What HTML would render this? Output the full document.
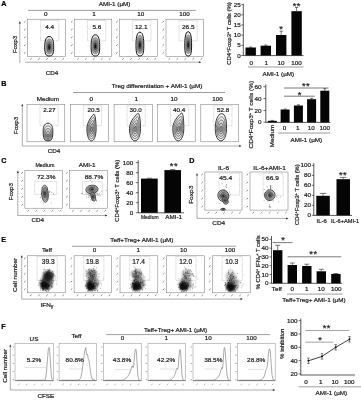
<!DOCTYPE html>
<html><head><meta charset="utf-8"><title>AMI-1 Treg figure</title>
<style>html,body{margin:0;padding:0;background:#fff}svg{display:block}text{font-family:"Liberation Sans",sans-serif}</style></head><body>
<svg width="361" height="400" viewBox="0 0 361 400">
<defs><filter id="bl" x="-20%" y="-20%" width="140%" height="140%"><feGaussianBlur stdDeviation="0.35"/></filter><filter id="bl2" x="-30%" y="-30%" width="160%" height="160%"><feGaussianBlur stdDeviation="1.1"/></filter><filter id="bl3" x="-30%" y="-30%" width="160%" height="160%"><feGaussianBlur stdDeviation="0.25"/></filter></defs>
<rect width="361" height="400" fill="#fff"/>
<text x="0" y="2.36" font-size="6.6" text-anchor="start" fill="#000" stroke="#000" stroke-width="0.2" transform="translate(1.30 3.90) scale(1.09 1)" font-weight="bold">A</text>
<text x="0" y="2.08" font-size="5.8" text-anchor="middle" fill="#1a1a1a" stroke="#1a1a1a" stroke-width="0.2" transform="translate(114.60 4.30) scale(1.09 1)">AMI-1 (µM)</text>
<line x1="28.00" y1="10.40" x2="195.80" y2="10.40" stroke="#444" stroke-width="0.52" />
<text x="0" y="2.08" font-size="5.8" text-anchor="middle" fill="#1a1a1a" stroke="#1a1a1a" stroke-width="0.2" transform="translate(45.80 13.70) scale(1.09 1)">0</text>
<text x="0" y="2.08" font-size="5.8" text-anchor="middle" fill="#1a1a1a" stroke="#1a1a1a" stroke-width="0.2" transform="translate(94.10 13.70) scale(1.09 1)">1</text>
<text x="0" y="2.08" font-size="5.8" text-anchor="middle" fill="#1a1a1a" stroke="#1a1a1a" stroke-width="0.2" transform="translate(140.70 13.70) scale(1.09 1)">10</text>
<text x="0" y="2.08" font-size="5.8" text-anchor="middle" fill="#1a1a1a" stroke="#1a1a1a" stroke-width="0.2" transform="translate(184.40 13.70) scale(1.09 1)">100</text>
<line x1="19.80" y1="63.00" x2="19.80" y2="21.80" stroke="#6a6a6a" stroke-width="0.55" />
<path d="M18.80 23.50 L19.80 21.20 L20.80 23.50Z" fill="#2a2a2a"/>
<line x1="25.00" y1="62.20" x2="200.60" y2="62.20" stroke="#6a6a6a" stroke-width="0.55" />
<path d="M198.90 61.20 L201.20 62.20 L198.90 63.20Z" fill="#2a2a2a"/>
<rect x="27.50" y="19.20" width="37.80" height="37.20" fill="none" stroke="#727272" stroke-width="0.5" />
<line x1="24.00" y1="22.50" x2="25.60" y2="21.00" stroke="#5c5c5c" stroke-width="0.72" />
<line x1="30.10" y1="59.70" x2="31.70" y2="58.20" stroke="#5c5c5c" stroke-width="0.72" />
<line x1="24.00" y1="30.30" x2="25.60" y2="28.80" stroke="#5c5c5c" stroke-width="0.72" />
<line x1="38.18" y1="59.70" x2="39.78" y2="58.20" stroke="#5c5c5c" stroke-width="0.72" />
<line x1="24.00" y1="38.10" x2="25.60" y2="36.60" stroke="#5c5c5c" stroke-width="0.72" />
<line x1="46.25" y1="59.70" x2="47.85" y2="58.20" stroke="#5c5c5c" stroke-width="0.72" />
<line x1="24.00" y1="45.90" x2="25.60" y2="44.40" stroke="#5c5c5c" stroke-width="0.72" />
<line x1="54.32" y1="59.70" x2="55.92" y2="58.20" stroke="#5c5c5c" stroke-width="0.72" />
<line x1="24.00" y1="53.70" x2="25.60" y2="52.20" stroke="#5c5c5c" stroke-width="0.72" />
<line x1="62.40" y1="59.70" x2="64.00" y2="58.20" stroke="#5c5c5c" stroke-width="0.72" />
<rect x="40.50" y="20.50" width="18.30" height="20.30" fill="none" stroke="#9a9a9a" stroke-width="0.45" stroke-dasharray="0.7 0.5"/>
<g>
<path d="M49.20 36.50 C53.03 36.50 53.70 42.35 53.70 47.23 C53.70 54.05 52.58 56.00 49.20 56.00 C45.83 56.00 44.70 54.05 44.70 47.23 C44.70 42.35 45.38 36.50 49.20 36.50Z" fill="#f4f4f4" stroke="#000" stroke-width="0.95"/>
<path d="M49.20 39.07 C52.11 39.07 52.62 43.52 52.62 47.23 C52.62 52.41 51.77 53.89 49.20 53.89 C46.64 53.89 45.78 52.41 45.78 47.23 C45.78 43.52 46.29 39.07 49.20 39.07Z" fill="#a8a8a8" stroke="#3a3a3a" stroke-width="0.4"/>
<path d="M49.20 41.22 C51.34 41.22 51.72 44.50 51.72 47.23 C51.72 51.05 51.09 52.14 49.20 52.14 C47.31 52.14 46.68 51.05 46.68 47.23 C46.68 44.50 47.06 41.22 49.20 41.22Z" fill="#808080" stroke="#444" stroke-width="0.3"/>
<path d="M49.20 43.58 C50.50 43.58 50.73 45.57 50.73 47.23 C50.73 49.55 50.35 50.21 49.20 50.21 C48.05 50.21 47.67 49.55 47.67 47.23 C47.67 45.57 47.90 43.58 49.20 43.58Z" fill="#4a4a4a" stroke="#333" stroke-width="0.3"/>
<path d="M49.20 45.40 C49.85 45.40 49.97 46.40 49.97 47.23 C49.97 48.39 49.77 48.72 49.20 48.72 C48.63 48.72 48.44 48.39 48.44 47.23 C48.44 46.40 48.55 45.40 49.20 45.40Z" fill="#141414" stroke="#111" stroke-width="0.2"/>
</g>
<text x="0" y="2.22" font-size="6.2" text-anchor="middle" fill="#1a1a1a" stroke="#1a1a1a" stroke-width="0.2" transform="translate(49.70 26.60) scale(1.04 1)">4.4</text>
<rect x="74.50" y="19.20" width="37.30" height="37.20" fill="none" stroke="#727272" stroke-width="0.5" />
<line x1="71.00" y1="22.50" x2="72.60" y2="21.00" stroke="#5c5c5c" stroke-width="0.72" />
<line x1="77.10" y1="59.70" x2="78.70" y2="58.20" stroke="#5c5c5c" stroke-width="0.72" />
<line x1="71.00" y1="30.30" x2="72.60" y2="28.80" stroke="#5c5c5c" stroke-width="0.72" />
<line x1="85.05" y1="59.70" x2="86.65" y2="58.20" stroke="#5c5c5c" stroke-width="0.72" />
<line x1="71.00" y1="38.10" x2="72.60" y2="36.60" stroke="#5c5c5c" stroke-width="0.72" />
<line x1="93.00" y1="59.70" x2="94.60" y2="58.20" stroke="#5c5c5c" stroke-width="0.72" />
<line x1="71.00" y1="45.90" x2="72.60" y2="44.40" stroke="#5c5c5c" stroke-width="0.72" />
<line x1="100.95" y1="59.70" x2="102.55" y2="58.20" stroke="#5c5c5c" stroke-width="0.72" />
<line x1="71.00" y1="53.70" x2="72.60" y2="52.20" stroke="#5c5c5c" stroke-width="0.72" />
<line x1="108.90" y1="59.70" x2="110.50" y2="58.20" stroke="#5c5c5c" stroke-width="0.72" />
<rect x="87.50" y="20.50" width="18.30" height="20.30" fill="none" stroke="#9a9a9a" stroke-width="0.45" stroke-dasharray="0.7 0.5"/>
<g>
<path d="M95.40 34.80 C99.06 34.80 99.70 41.16 99.70 46.46 C99.70 53.88 98.62 56.00 95.40 56.00 C92.18 56.00 91.10 53.88 91.10 46.46 C91.10 41.16 91.75 34.80 95.40 34.80Z" fill="#f4f4f4" stroke="#000" stroke-width="0.95"/>
<path d="M95.40 37.60 C98.18 37.60 98.67 42.43 98.67 46.46 C98.67 52.10 97.85 53.71 95.40 53.71 C92.95 53.71 92.13 52.10 92.13 46.46 C92.13 42.43 92.62 37.60 95.40 37.60Z" fill="#a8a8a8" stroke="#3a3a3a" stroke-width="0.4"/>
<path d="M95.40 39.93 C97.45 39.93 97.81 43.49 97.81 46.46 C97.81 50.62 97.21 51.80 95.40 51.80 C93.59 51.80 92.99 50.62 92.99 46.46 C92.99 43.49 93.35 39.93 95.40 39.93Z" fill="#808080" stroke="#444" stroke-width="0.3"/>
<path d="M95.40 42.50 C96.64 42.50 96.86 44.66 96.86 46.46 C96.86 48.98 96.50 49.70 95.40 49.70 C94.30 49.70 93.94 48.98 93.94 46.46 C93.94 44.66 94.16 42.50 95.40 42.50Z" fill="#4a4a4a" stroke="#333" stroke-width="0.3"/>
<path d="M95.40 44.48 C96.02 44.48 96.13 45.56 96.13 46.46 C96.13 47.72 95.95 48.08 95.40 48.08 C94.85 48.08 94.67 47.72 94.67 46.46 C94.67 45.56 94.78 44.48 95.40 44.48Z" fill="#141414" stroke="#111" stroke-width="0.2"/>
</g>
<text x="0" y="2.22" font-size="6.2" text-anchor="middle" fill="#1a1a1a" stroke="#1a1a1a" stroke-width="0.2" transform="translate(96.90 26.60) scale(1.04 1)">5.6</text>
<rect x="119.60" y="19.20" width="37.80" height="37.20" fill="none" stroke="#727272" stroke-width="0.5" />
<line x1="116.10" y1="22.50" x2="117.70" y2="21.00" stroke="#5c5c5c" stroke-width="0.72" />
<line x1="122.20" y1="59.70" x2="123.80" y2="58.20" stroke="#5c5c5c" stroke-width="0.72" />
<line x1="116.10" y1="30.30" x2="117.70" y2="28.80" stroke="#5c5c5c" stroke-width="0.72" />
<line x1="130.28" y1="59.70" x2="131.88" y2="58.20" stroke="#5c5c5c" stroke-width="0.72" />
<line x1="116.10" y1="38.10" x2="117.70" y2="36.60" stroke="#5c5c5c" stroke-width="0.72" />
<line x1="138.35" y1="59.70" x2="139.95" y2="58.20" stroke="#5c5c5c" stroke-width="0.72" />
<line x1="116.10" y1="45.90" x2="117.70" y2="44.40" stroke="#5c5c5c" stroke-width="0.72" />
<line x1="146.42" y1="59.70" x2="148.02" y2="58.20" stroke="#5c5c5c" stroke-width="0.72" />
<line x1="116.10" y1="53.70" x2="117.70" y2="52.20" stroke="#5c5c5c" stroke-width="0.72" />
<line x1="154.50" y1="59.70" x2="156.10" y2="58.20" stroke="#5c5c5c" stroke-width="0.72" />
<rect x="132.60" y="20.50" width="18.30" height="20.30" fill="none" stroke="#9a9a9a" stroke-width="0.45" stroke-dasharray="0.7 0.5"/>
<g>
<path d="M139.90 32.20 C143.22 32.20 143.80 39.34 143.80 45.29 C143.80 53.62 142.83 56.00 139.90 56.00 C136.97 56.00 136.00 53.62 136.00 45.29 C136.00 39.34 136.59 32.20 139.90 32.20Z" fill="#f4f4f4" stroke="#000" stroke-width="0.95"/>
<path d="M139.90 35.34 C142.42 35.34 142.86 40.77 142.86 45.29 C142.86 51.62 142.12 53.43 139.90 53.43 C137.68 53.43 136.94 51.62 136.94 45.29 C136.94 40.77 137.38 35.34 139.90 35.34Z" fill="#a8a8a8" stroke="#3a3a3a" stroke-width="0.4"/>
<path d="M139.90 37.96 C141.76 37.96 142.08 41.96 142.08 45.29 C142.08 49.95 141.54 51.29 139.90 51.29 C138.26 51.29 137.72 49.95 137.72 45.29 C137.72 41.96 138.04 37.96 139.90 37.96Z" fill="#808080" stroke="#444" stroke-width="0.3"/>
<path d="M139.90 40.84 C141.03 40.84 141.23 43.27 141.23 45.29 C141.23 48.12 140.89 48.93 139.90 48.93 C138.91 48.93 138.57 48.12 138.57 45.29 C138.57 43.27 138.77 40.84 139.90 40.84Z" fill="#4a4a4a" stroke="#333" stroke-width="0.3"/>
<path d="M139.90 43.06 C140.46 43.06 140.56 44.28 140.56 45.29 C140.56 46.71 140.40 47.11 139.90 47.11 C139.40 47.11 139.24 46.71 139.24 45.29 C139.24 44.28 139.34 43.06 139.90 43.06Z" fill="#141414" stroke="#111" stroke-width="0.2"/>
</g>
<text x="0" y="2.22" font-size="6.2" text-anchor="middle" fill="#1a1a1a" stroke="#1a1a1a" stroke-width="0.2" transform="translate(141.20 26.60) scale(1.04 1)">12.1</text>
<rect x="166.00" y="19.20" width="37.50" height="37.20" fill="none" stroke="#727272" stroke-width="0.5" />
<line x1="162.50" y1="22.50" x2="164.10" y2="21.00" stroke="#5c5c5c" stroke-width="0.72" />
<line x1="168.60" y1="59.70" x2="170.20" y2="58.20" stroke="#5c5c5c" stroke-width="0.72" />
<line x1="162.50" y1="30.30" x2="164.10" y2="28.80" stroke="#5c5c5c" stroke-width="0.72" />
<line x1="176.60" y1="59.70" x2="178.20" y2="58.20" stroke="#5c5c5c" stroke-width="0.72" />
<line x1="162.50" y1="38.10" x2="164.10" y2="36.60" stroke="#5c5c5c" stroke-width="0.72" />
<line x1="184.60" y1="59.70" x2="186.20" y2="58.20" stroke="#5c5c5c" stroke-width="0.72" />
<line x1="162.50" y1="45.90" x2="164.10" y2="44.40" stroke="#5c5c5c" stroke-width="0.72" />
<line x1="192.60" y1="59.70" x2="194.20" y2="58.20" stroke="#5c5c5c" stroke-width="0.72" />
<line x1="162.50" y1="53.70" x2="164.10" y2="52.20" stroke="#5c5c5c" stroke-width="0.72" />
<line x1="200.60" y1="59.70" x2="202.20" y2="58.20" stroke="#5c5c5c" stroke-width="0.72" />
<rect x="179.00" y="20.50" width="18.30" height="20.30" fill="none" stroke="#9a9a9a" stroke-width="0.45" stroke-dasharray="0.7 0.5"/>
<g>
<path d="M188.20 31.70 C191.09 31.70 191.60 38.99 191.60 45.06 C191.60 53.57 190.75 56.00 188.20 56.00 C185.65 56.00 184.80 53.57 184.80 45.06 C184.80 38.99 185.31 31.70 188.20 31.70Z" fill="#f4f4f4" stroke="#000" stroke-width="0.95"/>
<path d="M188.20 34.91 C190.40 34.91 190.78 40.45 190.78 45.06 C190.78 51.53 190.14 53.38 188.20 53.38 C186.26 53.38 185.62 51.53 185.62 45.06 C185.62 40.45 186.00 34.91 188.20 34.91Z" fill="#a8a8a8" stroke="#3a3a3a" stroke-width="0.4"/>
<path d="M188.20 37.58 C189.82 37.58 190.10 41.66 190.10 45.06 C190.10 49.83 189.63 51.19 188.20 51.19 C186.77 51.19 186.30 49.83 186.30 45.06 C186.30 41.66 186.58 37.58 188.20 37.58Z" fill="#808080" stroke="#444" stroke-width="0.3"/>
<path d="M188.20 40.52 C189.18 40.52 189.36 43.00 189.36 45.06 C189.36 47.96 189.07 48.78 188.20 48.78 C187.33 48.78 187.04 47.96 187.04 45.06 C187.04 43.00 187.22 40.52 188.20 40.52Z" fill="#4a4a4a" stroke="#333" stroke-width="0.3"/>
<path d="M188.20 42.79 C188.69 42.79 188.78 44.03 188.78 45.06 C188.78 46.51 188.63 46.92 188.20 46.92 C187.77 46.92 187.62 46.51 187.62 45.06 C187.62 44.03 187.71 42.79 188.20 42.79Z" fill="#141414" stroke="#111" stroke-width="0.2"/>
</g>
<text x="0" y="2.22" font-size="6.2" text-anchor="middle" fill="#1a1a1a" stroke="#1a1a1a" stroke-width="0.2" transform="translate(188.30 26.60) scale(1.04 1)">26.5</text>
<text x="0" y="2.08" font-size="5.8" text-anchor="middle" fill="#1a1a1a" stroke="#1a1a1a" stroke-width="0.2" transform="translate(15.00 44.50) rotate(-90) scale(1.09 1)">Foxp3</text>
<text x="0" y="2.08" font-size="5.8" text-anchor="middle" fill="#1a1a1a" stroke="#1a1a1a" stroke-width="0.2" transform="translate(52.00 72.70) scale(1.09 1)">CD4</text>
<line x1="243.30" y1="3.70" x2="243.30" y2="55.80" stroke="#111" stroke-width="0.7" />
<line x1="241.30" y1="55.50" x2="243.30" y2="55.50" stroke="#111" stroke-width="0.6" />
<text x="0" y="2.08" font-size="5.8" text-anchor="end" fill="#1a1a1a" stroke="#1a1a1a" stroke-width="0.2" transform="translate(240.80 55.50) scale(1.09 1)">0</text>
<line x1="241.30" y1="45.33" x2="243.30" y2="45.33" stroke="#111" stroke-width="0.6" />
<text x="0" y="2.08" font-size="5.8" text-anchor="end" fill="#1a1a1a" stroke="#1a1a1a" stroke-width="0.2" transform="translate(240.80 45.33) scale(1.09 1)">5</text>
<line x1="241.30" y1="35.15" x2="243.30" y2="35.15" stroke="#111" stroke-width="0.6" />
<text x="0" y="2.08" font-size="5.8" text-anchor="end" fill="#1a1a1a" stroke="#1a1a1a" stroke-width="0.2" transform="translate(240.80 35.15) scale(1.09 1)">10</text>
<line x1="241.30" y1="24.97" x2="243.30" y2="24.97" stroke="#111" stroke-width="0.6" />
<text x="0" y="2.08" font-size="5.8" text-anchor="end" fill="#1a1a1a" stroke="#1a1a1a" stroke-width="0.2" transform="translate(240.80 24.97) scale(1.09 1)">15</text>
<line x1="241.30" y1="14.80" x2="243.30" y2="14.80" stroke="#111" stroke-width="0.6" />
<text x="0" y="2.08" font-size="5.8" text-anchor="end" fill="#1a1a1a" stroke="#1a1a1a" stroke-width="0.2" transform="translate(240.80 14.80) scale(1.09 1)">20</text>
<line x1="241.30" y1="4.62" x2="243.30" y2="4.62" stroke="#111" stroke-width="0.6" />
<text x="0" y="2.08" font-size="5.8" text-anchor="end" fill="#1a1a1a" stroke="#1a1a1a" stroke-width="0.2" transform="translate(240.80 4.62) scale(1.09 1)">25</text>
<line x1="243.30" y1="55.60" x2="303.50" y2="55.60" stroke="#111" stroke-width="0.7" />
<rect x="245.50" y="47.50" width="10.40" height="8.00" fill="#050505"/>
<line x1="250.70" y1="47.50" x2="250.70" y2="47.00" stroke="#111" stroke-width="0.55" />
<line x1="249.10" y1="47.00" x2="252.30" y2="47.00" stroke="#111" stroke-width="0.55" />
<rect x="260.60" y="45.70" width="10.40" height="9.80" fill="#050505"/>
<line x1="265.80" y1="45.70" x2="265.80" y2="45.00" stroke="#111" stroke-width="0.55" />
<line x1="264.20" y1="45.00" x2="267.40" y2="45.00" stroke="#111" stroke-width="0.55" />
<rect x="276.00" y="35.00" width="10.40" height="20.50" fill="#050505"/>
<line x1="281.20" y1="35.00" x2="281.20" y2="31.20" stroke="#111" stroke-width="0.55" />
<line x1="279.60" y1="31.20" x2="282.80" y2="31.20" stroke="#111" stroke-width="0.55" />
<rect x="291.40" y="11.20" width="10.40" height="44.30" fill="#050505"/>
<line x1="296.60" y1="11.20" x2="296.60" y2="7.50" stroke="#111" stroke-width="0.55" />
<line x1="295.00" y1="7.50" x2="298.20" y2="7.50" stroke="#111" stroke-width="0.55" />
<text x="281.20" y="32.49" font-size="9.4" text-anchor="middle" fill="#222" stroke="#222" stroke-width="0.2" letter-spacing="0.4">*</text>
<text x="296.70" y="8.79" font-size="9.4" text-anchor="middle" fill="#222" stroke="#222" stroke-width="0.2" letter-spacing="0.4">**</text>
<text x="0" y="2.08" font-size="5.8" text-anchor="middle" fill="#1a1a1a" stroke="#1a1a1a" stroke-width="0.2" transform="translate(251.20 62.50) scale(1.09 1)">0</text>
<text x="0" y="2.08" font-size="5.8" text-anchor="middle" fill="#1a1a1a" stroke="#1a1a1a" stroke-width="0.2" transform="translate(266.20 62.50) scale(1.09 1)">1</text>
<text x="0" y="2.08" font-size="5.8" text-anchor="middle" fill="#1a1a1a" stroke="#1a1a1a" stroke-width="0.2" transform="translate(281.00 62.50) scale(1.09 1)">10</text>
<text x="0" y="2.08" font-size="5.8" text-anchor="middle" fill="#1a1a1a" stroke="#1a1a1a" stroke-width="0.2" transform="translate(296.50 62.50) scale(1.09 1)">100</text>
<line x1="248.00" y1="67.00" x2="303.50" y2="67.00" stroke="#444" stroke-width="0.52" />
<text x="0" y="2.08" font-size="5.8" text-anchor="middle" fill="#1a1a1a" stroke="#1a1a1a" stroke-width="0.2" transform="translate(278.30 73.50) scale(1.09 1)">AMI-1 (µM)</text>
<text x="0" y="2.08" font-size="5.8" text-anchor="middle" fill="#1a1a1a" stroke="#1a1a1a" stroke-width="0.2" transform="translate(228.60 33.50) rotate(-90) scale(1.032 1)">CD4<tspan font-size="3.6" dy="-2.0">+</tspan><tspan dy="2.0">Foxp3</tspan><tspan font-size="3.6" dy="-2.0">+</tspan><tspan dy="2.0"> T cells (%)</tspan></text>
<text x="0" y="2.36" font-size="6.6" text-anchor="start" fill="#000" stroke="#000" stroke-width="0.2" transform="translate(1.30 83.20) scale(1.09 1)" font-weight="bold">B</text>
<text x="0" y="2.08" font-size="5.8" text-anchor="middle" fill="#1a1a1a" stroke="#1a1a1a" stroke-width="0.2" transform="translate(157.00 86.20) scale(1.09 1)">Treg differentiation + AMI-1 (µM)</text>
<line x1="73.00" y1="92.50" x2="225.00" y2="92.50" stroke="#444" stroke-width="0.52" />
<text x="0" y="2.08" font-size="5.8" text-anchor="middle" fill="#1a1a1a" stroke="#1a1a1a" stroke-width="0.2" transform="translate(47.90 99.20) scale(1.09 1)">Medium</text>
<text x="0" y="2.08" font-size="5.8" text-anchor="middle" fill="#1a1a1a" stroke="#1a1a1a" stroke-width="0.2" transform="translate(91.20 99.20) scale(1.09 1)">0</text>
<text x="0" y="2.08" font-size="5.8" text-anchor="middle" fill="#1a1a1a" stroke="#1a1a1a" stroke-width="0.2" transform="translate(136.20 99.20) scale(1.09 1)">1</text>
<text x="0" y="2.08" font-size="5.8" text-anchor="middle" fill="#1a1a1a" stroke="#1a1a1a" stroke-width="0.2" transform="translate(174.10 99.20) scale(1.09 1)">10</text>
<text x="0" y="2.08" font-size="5.8" text-anchor="middle" fill="#1a1a1a" stroke="#1a1a1a" stroke-width="0.2" transform="translate(217.40 99.20) scale(1.09 1)">100</text>
<line x1="22.30" y1="146.00" x2="22.30" y2="104.50" stroke="#6a6a6a" stroke-width="0.55" />
<path d="M21.30 106.20 L22.30 103.90 L23.30 106.20Z" fill="#2a2a2a"/>
<line x1="22.30" y1="146.00" x2="240.90" y2="146.00" stroke="#6a6a6a" stroke-width="0.55" />
<path d="M239.20 145.00 L241.50 146.00 L239.20 147.00Z" fill="#2a2a2a"/>
<rect x="27.00" y="104.50" width="37.80" height="37.30" fill="none" stroke="#727272" stroke-width="0.5" />
<rect x="40.00" y="105.80" width="18.20" height="19.90" fill="none" stroke="#9a9a9a" stroke-width="0.45" stroke-dasharray="0.7 0.5"/>
<g filter="url(#bl3)">
<path d="M48.00 123.20 C52.37 123.20 52.85 128.51 52.85 131.16 C52.85 139.13 51.64 140.90 48.00 140.90 C44.36 140.90 43.15 139.13 43.15 131.16 C43.15 128.51 43.63 123.20 48.00 123.20Z" fill="#f7f7f7" stroke="#050505" stroke-width="0.8"/>
<path d="M48.00 125.86 C51.49 125.86 51.88 130.10 51.88 132.23 C51.88 138.60 50.91 140.02 48.00 140.02 C45.09 140.02 44.12 138.60 44.12 132.23 C44.12 130.10 44.51 125.86 48.00 125.86Z" fill="#ececec" stroke="#050505" stroke-width="0.5"/>
<path d="M48.00 128.51 C50.62 128.51 50.91 131.70 50.91 133.29 C50.91 138.07 50.18 139.13 48.00 139.13 C45.82 139.13 45.09 138.07 45.09 133.29 C45.09 131.70 45.38 128.51 48.00 128.51Z" fill="#e0e0e0" stroke="#050505" stroke-width="0.5"/>
<path d="M48.00 131.16 C49.75 131.16 49.94 133.29 49.94 134.35 C49.94 137.54 49.45 138.25 48.00 138.25 C46.55 138.25 46.06 137.54 46.06 134.35 C46.06 133.29 46.25 131.16 48.00 131.16Z" fill="#cfcfcf" stroke="#050505" stroke-width="0.5"/>
<path d="M48.00 133.82 C48.87 133.82 48.97 134.88 48.97 135.41 C48.97 137.01 48.73 137.36 48.00 137.36 C47.27 137.36 47.03 137.01 47.03 135.41 C47.03 134.88 47.13 133.82 48.00 133.82Z" fill="#a8a8a8" stroke="#050505" stroke-width="0.5"/>
</g>
<text x="0" y="2.08" font-size="5.8" text-anchor="middle" fill="#1a1a1a" stroke="#1a1a1a" stroke-width="0.2" transform="translate(49.50 110.10) scale(1.09 1)">2.27</text>
<rect x="70.30" y="104.50" width="38.10" height="37.30" fill="none" stroke="#727272" stroke-width="0.5" />
<rect x="83.30" y="105.80" width="18.20" height="19.90" fill="none" stroke="#9a9a9a" stroke-width="0.45" stroke-dasharray="0.7 0.5"/>
<g filter="url(#bl3)">
<path d="M94.00 114.10 C95.15 114.64 96.10 121.60 96.10 128.84 C96.10 136.08 94.03 140.90 91.50 140.90 C88.97 140.90 86.90 136.08 86.90 128.84 C86.90 121.60 92.85 114.64 94.00 114.10Z" fill="#f7f7f7" stroke="#050505" stroke-width="0.8"/>
<path d="M93.50 117.21 C94.42 117.64 95.18 123.21 95.18 129.00 C95.18 134.79 93.52 138.65 91.50 138.65 C89.48 138.65 87.82 134.79 87.82 129.00 C87.82 123.21 92.58 117.64 93.50 117.21Z" fill="#ececec" stroke="#050505" stroke-width="0.5"/>
<path d="M93.00 120.32 C93.69 120.64 94.26 124.82 94.26 129.16 C94.26 133.50 93.02 136.40 91.50 136.40 C89.98 136.40 88.74 133.50 88.74 129.16 C88.74 124.82 92.31 120.64 93.00 120.32Z" fill="#e0e0e0" stroke="#050505" stroke-width="0.5"/>
<path d="M92.50 123.43 C92.96 123.64 93.34 126.43 93.34 129.32 C93.34 132.22 92.51 134.15 91.50 134.15 C90.49 134.15 89.66 132.22 89.66 129.32 C89.66 126.43 92.04 123.64 92.50 123.43Z" fill="#cfcfcf" stroke="#050505" stroke-width="0.5"/>
<path d="M92.00 126.54 C92.23 126.64 92.42 128.04 92.42 129.48 C92.42 130.93 92.01 131.90 91.50 131.90 C90.99 131.90 90.58 130.93 90.58 129.48 C90.58 128.04 91.77 126.64 92.00 126.54Z" fill="#a8a8a8" stroke="#050505" stroke-width="0.5"/>
</g>
<text x="0" y="2.08" font-size="5.8" text-anchor="middle" fill="#1a1a1a" stroke="#1a1a1a" stroke-width="0.2" transform="translate(93.70 110.10) scale(1.09 1)">20.5</text>
<rect x="114.10" y="104.50" width="38.20" height="37.30" fill="none" stroke="#727272" stroke-width="0.5" />
<rect x="127.10" y="105.80" width="18.20" height="19.90" fill="none" stroke="#9a9a9a" stroke-width="0.45" stroke-dasharray="0.7 0.5"/>
<g filter="url(#bl3)">
<path d="M138.20 113.30 C139.57 113.85 140.50 121.03 140.50 128.48 C140.50 135.93 138.03 140.90 135.00 140.90 C131.97 140.90 129.50 135.93 129.50 128.48 C129.50 121.03 136.82 113.85 138.20 113.30Z" fill="#f7f7f7" stroke="#050505" stroke-width="0.8"/>
<path d="M137.56 116.50 C138.66 116.94 139.40 122.68 139.40 128.65 C139.40 134.61 137.42 138.58 135.00 138.58 C132.58 138.58 130.60 134.61 130.60 128.65 C130.60 122.68 136.46 116.94 137.56 116.50Z" fill="#ececec" stroke="#050505" stroke-width="0.5"/>
<path d="M136.92 119.70 C137.74 120.03 138.30 124.34 138.30 128.81 C138.30 133.28 136.81 136.26 135.00 136.26 C133.19 136.26 131.70 133.28 131.70 128.81 C131.70 124.34 136.09 120.03 136.92 119.70Z" fill="#e0e0e0" stroke="#050505" stroke-width="0.5"/>
<path d="M136.28 122.90 C136.83 123.13 137.20 126.00 137.20 128.98 C137.20 131.96 136.21 133.94 135.00 133.94 C133.79 133.94 132.80 131.96 132.80 128.98 C132.80 126.00 135.73 123.13 136.28 122.90Z" fill="#cfcfcf" stroke="#050505" stroke-width="0.5"/>
<path d="M135.64 126.11 C135.91 126.22 136.10 127.65 136.10 129.14 C136.10 130.63 135.60 131.63 135.00 131.63 C134.40 131.63 133.90 130.63 133.90 129.14 C133.90 127.65 135.36 126.22 135.64 126.11Z" fill="#a8a8a8" stroke="#050505" stroke-width="0.5"/>
</g>
<text x="0" y="2.08" font-size="5.8" text-anchor="middle" fill="#1a1a1a" stroke="#1a1a1a" stroke-width="0.2" transform="translate(135.70 110.10) scale(1.09 1)">30.0</text>
<rect x="157.50" y="104.50" width="37.70" height="37.30" fill="none" stroke="#727272" stroke-width="0.5" />
<rect x="170.50" y="105.80" width="18.20" height="19.90" fill="none" stroke="#9a9a9a" stroke-width="0.45" stroke-dasharray="0.7 0.5"/>
<g filter="url(#bl3)">
<path d="M181.80 112.90 C183.18 113.46 183.80 120.74 183.80 128.30 C183.80 135.86 181.33 140.90 178.30 140.90 C175.28 140.90 172.80 135.86 172.80 128.30 C172.80 120.74 180.43 113.46 181.80 112.90Z" fill="#f7f7f7" stroke="#050505" stroke-width="0.8"/>
<path d="M181.10 116.15 C182.20 116.60 182.70 122.42 182.70 128.47 C182.70 134.52 180.72 138.55 178.30 138.55 C175.88 138.55 173.90 134.52 173.90 128.47 C173.90 122.42 180.00 116.60 181.10 116.15Z" fill="#ececec" stroke="#050505" stroke-width="0.5"/>
<path d="M180.40 119.40 C181.22 119.73 181.60 124.10 181.60 128.64 C181.60 133.17 180.12 136.20 178.30 136.20 C176.49 136.20 175.00 133.17 175.00 128.64 C175.00 124.10 179.58 119.73 180.40 119.40Z" fill="#e0e0e0" stroke="#050505" stroke-width="0.5"/>
<path d="M179.70 122.64 C180.25 122.87 180.50 125.78 180.50 128.80 C180.50 131.83 179.51 133.84 178.30 133.84 C177.09 133.84 176.10 131.83 176.10 128.80 C176.10 125.78 179.15 122.87 179.70 122.64Z" fill="#cfcfcf" stroke="#050505" stroke-width="0.5"/>
<path d="M179.00 125.89 C179.28 126.00 179.40 127.46 179.40 128.97 C179.40 130.48 178.91 131.49 178.30 131.49 C177.70 131.49 177.20 130.48 177.20 128.97 C177.20 127.46 178.72 126.00 179.00 125.89Z" fill="#a8a8a8" stroke="#050505" stroke-width="0.5"/>
</g>
<text x="0" y="2.08" font-size="5.8" text-anchor="middle" fill="#1a1a1a" stroke="#1a1a1a" stroke-width="0.2" transform="translate(179.10 110.10) scale(1.09 1)">40.4</text>
<rect x="200.80" y="104.50" width="37.70" height="37.30" fill="none" stroke="#727272" stroke-width="0.5" />
<rect x="213.80" y="105.80" width="18.20" height="19.90" fill="none" stroke="#9a9a9a" stroke-width="0.45" stroke-dasharray="0.7 0.5"/>
<g filter="url(#bl3)">
<path d="M221.70 113.60 C225.94 114.15 226.55 121.24 226.55 128.62 C226.55 135.99 224.01 140.90 220.90 140.90 C217.79 140.90 215.25 135.99 215.25 128.62 C215.25 121.24 217.46 114.15 221.70 113.60Z" fill="#f7f7f7" stroke="#050505" stroke-width="0.8"/>
<path d="M221.54 116.77 C224.93 117.20 225.42 122.88 225.42 128.78 C225.42 134.68 223.39 138.61 220.90 138.61 C218.41 138.61 216.38 134.68 216.38 128.78 C216.38 122.88 218.15 117.20 221.54 116.77Z" fill="#ececec" stroke="#050505" stroke-width="0.5"/>
<path d="M221.38 119.93 C223.92 120.26 224.29 124.52 224.29 128.94 C224.29 133.37 222.76 136.31 220.90 136.31 C219.04 136.31 217.51 133.37 217.51 128.94 C217.51 124.52 218.84 120.26 221.38 119.93Z" fill="#e0e0e0" stroke="#050505" stroke-width="0.5"/>
<path d="M221.22 123.10 C222.91 123.32 223.16 126.16 223.16 129.11 C223.16 132.05 222.14 134.02 220.90 134.02 C219.66 134.02 218.64 132.05 218.64 129.11 C218.64 126.16 219.53 123.32 221.22 123.10Z" fill="#cfcfcf" stroke="#050505" stroke-width="0.5"/>
<path d="M221.06 126.27 C221.91 126.38 222.03 127.80 222.03 129.27 C222.03 130.74 221.52 131.73 220.90 131.73 C220.28 131.73 219.77 130.74 219.77 129.27 C219.77 127.80 220.21 126.38 221.06 126.27Z" fill="#a8a8a8" stroke="#050505" stroke-width="0.5"/>
</g>
<text x="0" y="2.08" font-size="5.8" text-anchor="middle" fill="#1a1a1a" stroke="#1a1a1a" stroke-width="0.2" transform="translate(223.20 110.10) scale(1.09 1)">52.8</text>
<text x="0" y="2.08" font-size="5.8" text-anchor="middle" fill="#1a1a1a" stroke="#1a1a1a" stroke-width="0.2" transform="translate(16.20 125.40) rotate(-90) scale(1.09 1)">Foxp3</text>
<text x="0" y="2.08" font-size="5.8" text-anchor="middle" fill="#1a1a1a" stroke="#1a1a1a" stroke-width="0.2" transform="translate(54.00 151.30) scale(1.09 1)">CD4</text>
<line x1="265.80" y1="84.50" x2="265.80" y2="122.60" stroke="#111" stroke-width="0.7" />
<line x1="263.40" y1="122.30" x2="265.80" y2="122.30" stroke="#111" stroke-width="0.6" />
<text x="0" y="2.08" font-size="5.8" text-anchor="end" fill="#1a1a1a" stroke="#1a1a1a" stroke-width="0.2" transform="translate(261.60 122.30) scale(1.09 1)">0</text>
<line x1="263.40" y1="110.46" x2="265.80" y2="110.46" stroke="#111" stroke-width="0.6" />
<text x="0" y="2.08" font-size="5.8" text-anchor="end" fill="#1a1a1a" stroke="#1a1a1a" stroke-width="0.2" transform="translate(261.60 110.46) scale(1.09 1)">20</text>
<line x1="263.40" y1="98.62" x2="265.80" y2="98.62" stroke="#111" stroke-width="0.6" />
<text x="0" y="2.08" font-size="5.8" text-anchor="end" fill="#1a1a1a" stroke="#1a1a1a" stroke-width="0.2" transform="translate(261.60 98.62) scale(1.09 1)">40</text>
<line x1="263.40" y1="86.78" x2="265.80" y2="86.78" stroke="#111" stroke-width="0.6" />
<text x="0" y="2.08" font-size="5.8" text-anchor="end" fill="#1a1a1a" stroke="#1a1a1a" stroke-width="0.2" transform="translate(261.60 86.78) scale(1.09 1)">60</text>
<line x1="265.80" y1="122.40" x2="330.50" y2="122.40" stroke="#111" stroke-width="0.7" />
<rect x="267.80" y="120.80" width="9.00" height="1.60" fill="#050505"/>
<line x1="272.30" y1="120.80" x2="272.30" y2="120.40" stroke="#111" stroke-width="0.55" />
<line x1="270.80" y1="120.40" x2="273.80" y2="120.40" stroke="#111" stroke-width="0.55" />
<rect x="280.60" y="109.50" width="9.00" height="12.90" fill="#050505"/>
<line x1="285.10" y1="109.50" x2="285.10" y2="109.00" stroke="#111" stroke-width="0.55" />
<line x1="283.60" y1="109.00" x2="286.60" y2="109.00" stroke="#111" stroke-width="0.55" />
<rect x="293.90" y="105.50" width="9.00" height="16.90" fill="#050505"/>
<line x1="298.40" y1="105.50" x2="298.40" y2="104.80" stroke="#111" stroke-width="0.55" />
<line x1="296.90" y1="104.80" x2="299.90" y2="104.80" stroke="#111" stroke-width="0.55" />
<rect x="307.10" y="99.20" width="9.00" height="23.20" fill="#050505"/>
<line x1="311.60" y1="99.20" x2="311.60" y2="98.30" stroke="#111" stroke-width="0.55" />
<line x1="310.10" y1="98.30" x2="313.10" y2="98.30" stroke="#111" stroke-width="0.55" />
<rect x="320.30" y="90.70" width="9.00" height="31.70" fill="#050505"/>
<line x1="324.80" y1="90.70" x2="324.80" y2="88.70" stroke="#111" stroke-width="0.55" />
<line x1="323.30" y1="88.70" x2="326.30" y2="88.70" stroke="#111" stroke-width="0.55" />
<text x="306.00" y="88.79" font-size="9.4" text-anchor="middle" fill="#222" stroke="#222" stroke-width="0.2" letter-spacing="0.4">**</text>
<line x1="284.00" y1="88.00" x2="328.50" y2="88.00" stroke="#222" stroke-width="0.6" />
<text x="299.70" y="97.99" font-size="9.4" text-anchor="middle" fill="#222" stroke="#222" stroke-width="0.2" letter-spacing="0.4">*</text>
<line x1="284.00" y1="96.20" x2="314.70" y2="96.20" stroke="#222" stroke-width="0.6" />
<text x="0" y="2.08" font-size="5.8" text-anchor="middle" fill="#1a1a1a" stroke="#1a1a1a" stroke-width="0.2" transform="translate(284.50 128.40) scale(1.09 1)">0</text>
<text x="0" y="2.08" font-size="5.8" text-anchor="middle" fill="#1a1a1a" stroke="#1a1a1a" stroke-width="0.2" transform="translate(297.80 128.40) scale(1.09 1)">1</text>
<text x="0" y="2.08" font-size="5.8" text-anchor="middle" fill="#1a1a1a" stroke="#1a1a1a" stroke-width="0.2" transform="translate(311.20 128.40) scale(1.09 1)">10</text>
<text x="0" y="2.08" font-size="5.8" text-anchor="middle" fill="#1a1a1a" stroke="#1a1a1a" stroke-width="0.2" transform="translate(324.70 128.40) scale(1.09 1)">100</text>
<text x="0" y="2.08" font-size="5.8" text-anchor="end" fill="#1a1a1a" stroke="#1a1a1a" stroke-width="0.2" transform="translate(272.00 124.80) rotate(-90) scale(1.09 1)">Medium</text>
<line x1="278.00" y1="133.00" x2="330.50" y2="133.00" stroke="#444" stroke-width="0.52" />
<text x="0" y="2.08" font-size="5.8" text-anchor="middle" fill="#1a1a1a" stroke="#1a1a1a" stroke-width="0.2" transform="translate(306.30 140.00) scale(1.09 1)">AMI-1 (µM)</text>
<text x="0" y="2.08" font-size="5.8" text-anchor="middle" fill="#1a1a1a" stroke="#1a1a1a" stroke-width="0.2" transform="translate(251.00 114.70) rotate(-90) scale(1.114 1)">CD4<tspan font-size="3.6" dy="-2.0">+</tspan><tspan dy="2.0">Foxp3</tspan><tspan font-size="3.6" dy="-2.0">+</tspan><tspan dy="2.0"> T cells (%)</tspan></text>
<text x="0" y="2.36" font-size="6.6" text-anchor="start" fill="#000" stroke="#000" stroke-width="0.2" transform="translate(1.30 160.70) scale(1.09 1)" font-weight="bold">C</text>
<text x="0" y="2.08" font-size="5.8" text-anchor="middle" fill="#1a1a1a" stroke="#1a1a1a" stroke-width="0.2" transform="translate(44.90 164.90) scale(1.09 1)" textLength="17.43" lengthAdjust="spacingAndGlyphs">Medium</text>
<text x="0" y="2.08" font-size="5.8" text-anchor="middle" fill="#1a1a1a" stroke="#1a1a1a" stroke-width="0.2" transform="translate(87.10 164.90) scale(1.09 1)">AMI-1</text>
<line x1="17.80" y1="215.50" x2="17.80" y2="171.20" stroke="#6a6a6a" stroke-width="0.55" />
<path d="M16.80 172.90 L17.80 170.60 L18.80 172.90Z" fill="#2a2a2a"/>
<line x1="17.80" y1="215.50" x2="106.80" y2="215.50" stroke="#6a6a6a" stroke-width="0.55" />
<path d="M105.10 214.50 L107.40 215.50 L105.10 216.50Z" fill="#2a2a2a"/>
<rect x="24.90" y="170.30" width="37.60" height="37.90" fill="none" stroke="#727272" stroke-width="0.5" />
<line x1="21.40" y1="173.60" x2="23.00" y2="172.10" stroke="#5c5c5c" stroke-width="0.72" />
<line x1="27.50" y1="211.50" x2="29.10" y2="210.00" stroke="#5c5c5c" stroke-width="0.72" />
<line x1="21.40" y1="181.58" x2="23.00" y2="180.08" stroke="#5c5c5c" stroke-width="0.72" />
<line x1="35.52" y1="211.50" x2="37.12" y2="210.00" stroke="#5c5c5c" stroke-width="0.72" />
<line x1="21.40" y1="189.55" x2="23.00" y2="188.05" stroke="#5c5c5c" stroke-width="0.72" />
<line x1="43.55" y1="211.50" x2="45.15" y2="210.00" stroke="#5c5c5c" stroke-width="0.72" />
<line x1="21.40" y1="197.53" x2="23.00" y2="196.03" stroke="#5c5c5c" stroke-width="0.72" />
<line x1="51.58" y1="211.50" x2="53.18" y2="210.00" stroke="#5c5c5c" stroke-width="0.72" />
<line x1="21.40" y1="205.50" x2="23.00" y2="204.00" stroke="#5c5c5c" stroke-width="0.72" />
<line x1="59.60" y1="211.50" x2="61.20" y2="210.00" stroke="#5c5c5c" stroke-width="0.72" />
<rect x="69.60" y="170.30" width="37.70" height="37.90" fill="none" stroke="#727272" stroke-width="0.5" />
<line x1="66.10" y1="173.60" x2="67.70" y2="172.10" stroke="#5c5c5c" stroke-width="0.72" />
<line x1="72.20" y1="211.50" x2="73.80" y2="210.00" stroke="#5c5c5c" stroke-width="0.72" />
<line x1="66.10" y1="181.58" x2="67.70" y2="180.08" stroke="#5c5c5c" stroke-width="0.72" />
<line x1="80.25" y1="211.50" x2="81.85" y2="210.00" stroke="#5c5c5c" stroke-width="0.72" />
<line x1="66.10" y1="189.55" x2="67.70" y2="188.05" stroke="#5c5c5c" stroke-width="0.72" />
<line x1="88.30" y1="211.50" x2="89.90" y2="210.00" stroke="#5c5c5c" stroke-width="0.72" />
<line x1="66.10" y1="197.53" x2="67.70" y2="196.03" stroke="#5c5c5c" stroke-width="0.72" />
<line x1="96.35" y1="211.50" x2="97.95" y2="210.00" stroke="#5c5c5c" stroke-width="0.72" />
<line x1="66.10" y1="205.50" x2="67.70" y2="204.00" stroke="#5c5c5c" stroke-width="0.72" />
<line x1="104.40" y1="211.50" x2="106.00" y2="210.00" stroke="#5c5c5c" stroke-width="0.72" />
<rect x="34.60" y="181.60" width="22.20" height="13.00" fill="none" stroke="#9a9a9a" stroke-width="0.45" stroke-dasharray="0.7 0.5"/>
<rect x="82.40" y="181.60" width="20.40" height="13.00" fill="none" stroke="#9a9a9a" stroke-width="0.45" stroke-dasharray="0.7 0.5"/>
<path d="M41.8 195.9h.01M47.6 191.4h.01M41.5 193.7h.01M46.2 199.5h.01M41.8 187.5h.01M46.8 196.4h.01M49.0 198.9h.01M44.7 192.6h.01M51.7 192.6h.01M43.0 188.3h.01M45.2 194.7h.01M44.1 193.7h.01M45.7 197.5h.01M47.9 195.0h.01M40.3 197.5h.01M41.3 193.1h.01M41.2 194.0h.01M43.0 195.1h.01M53.6 193.8h.01M47.2 187.4h.01M44.3 197.3h.01M44.8 195.9h.01M45.3 189.0h.01M46.5 189.9h.01M49.9 191.5h.01M46.8 194.0h.01M47.5 191.0h.01M47.6 193.4h.01M48.3 197.1h.01M45.4 190.1h.01M47.0 196.3h.01M49.3 192.1h.01M46.4 196.5h.01M45.7 195.0h.01M45.5 191.0h.01M42.4 192.0h.01M46.5 201.6h.01M47.5 199.3h.01M47.0 197.5h.01M45.5 197.9h.01M49.6 192.4h.01M43.2 203.8h.01M45.6 198.9h.01M47.3 188.3h.01M51.3 202.9h.01" stroke="#333" stroke-width="0.64" stroke-linecap="round" fill="none" opacity="0.8"/>
<g transform="translate(45.2 193.7) rotate(-3)">
<ellipse cx="-0.21" cy="0.04" rx="3.30" ry="8.60" fill="#cdcdcd" stroke="#1a1a1a" stroke-width="0.7"/>
<ellipse cx="-0.10" cy="0.08" rx="2.57" ry="6.71" fill="#adadad" stroke="#1a1a1a" stroke-width="0.35"/>
<ellipse cx="0.10" cy="-0.35" rx="1.91" ry="4.99" fill="#929292" stroke="#1a1a1a" stroke-width="0.35"/>
<ellipse cx="-0.39" cy="0.27" rx="1.25" ry="3.27" fill="#707070" stroke="#1a1a1a" stroke-width="0.35"/>
<ellipse cx="-0.19" cy="-0.21" rx="0.56" ry="1.46" fill="#303030" stroke="#1a1a1a" stroke-width="0.35"/>
</g>
<path d="M86.2 193.0h.01M90.9 189.8h.01M95.9 192.3h.01M90.9 200.1h.01M90.0 186.3h.01M86.5 189.6h.01M94.6 195.8h.01M96.6 200.3h.01M98.9 195.0h.01M97.4 195.1h.01M89.9 195.9h.01M92.4 191.3h.01M100.2 195.7h.01M90.3 191.9h.01M101.7 191.1h.01M95.2 195.1h.01M94.3 194.9h.01M90.3 190.1h.01M91.6 190.6h.01M95.5 199.3h.01M88.6 194.7h.01M88.3 189.1h.01M91.3 192.7h.01M90.4 180.4h.01M97.8 191.0h.01M89.6 195.4h.01M89.8 185.7h.01M94.2 194.2h.01M88.9 196.1h.01M93.7 187.1h.01M99.3 193.5h.01M87.6 194.3h.01M92.7 196.7h.01M86.7 197.0h.01M96.0 195.4h.01M94.7 198.2h.01M95.1 192.8h.01M88.8 197.3h.01M96.2 193.6h.01M92.8 195.5h.01M82.0 193.7h.01M82.1 193.3h.01M96.5 200.9h.01M90.3 194.2h.01M91.9 182.1h.01M95.2 192.1h.01M92.5 187.9h.01M92.0 192.6h.01M97.4 193.6h.01M106.3 190.4h.01" stroke="#333" stroke-width="0.64" stroke-linecap="round" fill="none" opacity="0.8"/>
<g transform="translate(91.8 189.3) rotate(-8)">
<ellipse cx="0.10" cy="0.19" rx="6.10" ry="4.30" fill="#cdcdcd" stroke="#1a1a1a" stroke-width="0.7"/>
<ellipse cx="0.24" cy="0.35" rx="4.76" ry="3.35" fill="#adadad" stroke="#1a1a1a" stroke-width="0.35"/>
<ellipse cx="0.19" cy="0.34" rx="3.54" ry="2.49" fill="#929292" stroke="#1a1a1a" stroke-width="0.35"/>
<ellipse cx="-0.38" cy="-0.03" rx="2.32" ry="1.63" fill="#707070" stroke="#1a1a1a" stroke-width="0.35"/>
<ellipse cx="0.35" cy="0.12" rx="1.04" ry="0.73" fill="#303030" stroke="#1a1a1a" stroke-width="0.35"/>
</g>
<g transform="translate(93 196.5) rotate(-12)">
<ellipse cx="0.23" cy="0.26" rx="2.20" ry="4.60" fill="#cdcdcd" stroke="#1a1a1a" stroke-width="0.7"/>
<ellipse cx="-0.01" cy="-0.19" rx="1.72" ry="3.59" fill="#adadad" stroke="#1a1a1a" stroke-width="0.35"/>
<ellipse cx="-0.40" cy="0.13" rx="1.28" ry="2.67" fill="#929292" stroke="#1a1a1a" stroke-width="0.35"/>
<ellipse cx="-0.02" cy="0.21" rx="0.84" ry="1.75" fill="#707070" stroke="#1a1a1a" stroke-width="0.35"/>
<ellipse cx="-0.10" cy="0.22" rx="0.37" ry="0.78" fill="#303030" stroke="#1a1a1a" stroke-width="0.35"/>
</g>
<text x="0" y="2.15" font-size="6.0" text-anchor="middle" fill="#1a1a1a" stroke="#1a1a1a" stroke-width="0.2" transform="translate(46.20 177.00) scale(1.09 1)">72.3%</text>
<text x="0" y="2.15" font-size="6.0" text-anchor="middle" fill="#1a1a1a" stroke="#1a1a1a" stroke-width="0.2" transform="translate(94.00 177.00) scale(1.09 1)">88.7%</text>
<text x="0" y="2.08" font-size="5.8" text-anchor="middle" fill="#1a1a1a" stroke="#1a1a1a" stroke-width="0.2" transform="translate(10.90 191.70) rotate(-90) scale(1.09 1)">Foxp3</text>
<text x="0" y="2.08" font-size="5.8" text-anchor="middle" fill="#1a1a1a" stroke="#1a1a1a" stroke-width="0.2" transform="translate(37.80 220.00) scale(1.09 1)">CD4</text>
<line x1="138.20" y1="160.30" x2="138.20" y2="213.00" stroke="#111" stroke-width="0.7" />
<line x1="135.80" y1="212.70" x2="138.20" y2="212.70" stroke="#111" stroke-width="0.6" />
<text x="0" y="2.08" font-size="5.8" text-anchor="end" fill="#1a1a1a" stroke="#1a1a1a" stroke-width="0.2" transform="translate(133.30 212.70) scale(1.09 1)">0</text>
<line x1="135.80" y1="202.68" x2="138.20" y2="202.68" stroke="#111" stroke-width="0.6" />
<text x="0" y="2.08" font-size="5.8" text-anchor="end" fill="#1a1a1a" stroke="#1a1a1a" stroke-width="0.2" transform="translate(133.30 202.68) scale(1.09 1)">20</text>
<line x1="135.80" y1="192.66" x2="138.20" y2="192.66" stroke="#111" stroke-width="0.6" />
<text x="0" y="2.08" font-size="5.8" text-anchor="end" fill="#1a1a1a" stroke="#1a1a1a" stroke-width="0.2" transform="translate(133.30 192.66) scale(1.09 1)">40</text>
<line x1="135.80" y1="182.64" x2="138.20" y2="182.64" stroke="#111" stroke-width="0.6" />
<text x="0" y="2.08" font-size="5.8" text-anchor="end" fill="#1a1a1a" stroke="#1a1a1a" stroke-width="0.2" transform="translate(133.30 182.64) scale(1.09 1)">60</text>
<line x1="135.80" y1="172.62" x2="138.20" y2="172.62" stroke="#111" stroke-width="0.6" />
<text x="0" y="2.08" font-size="5.8" text-anchor="end" fill="#1a1a1a" stroke="#1a1a1a" stroke-width="0.2" transform="translate(133.30 172.62) scale(1.09 1)">80</text>
<line x1="135.80" y1="162.60" x2="138.20" y2="162.60" stroke="#111" stroke-width="0.6" />
<text x="0" y="2.08" font-size="5.8" text-anchor="end" fill="#1a1a1a" stroke="#1a1a1a" stroke-width="0.2" transform="translate(133.30 162.60) scale(1.09 1)">100</text>
<line x1="138.20" y1="212.80" x2="184.00" y2="212.80" stroke="#111" stroke-width="0.7" />
<rect x="141.00" y="178.60" width="16.70" height="34.20" fill="#050505"/>
<line x1="149.35" y1="178.60" x2="149.35" y2="178.20" stroke="#111" stroke-width="0.55" />
<line x1="146.85" y1="178.20" x2="151.85" y2="178.20" stroke="#111" stroke-width="0.55" />
<rect x="164.40" y="170.10" width="16.60" height="42.70" fill="#050505"/>
<line x1="172.70" y1="170.10" x2="172.70" y2="169.50" stroke="#111" stroke-width="0.55" />
<line x1="170.20" y1="169.50" x2="175.20" y2="169.50" stroke="#111" stroke-width="0.55" />
<text x="173.90" y="168.89" font-size="9.4" text-anchor="middle" fill="#222" stroke="#222" stroke-width="0.2" letter-spacing="0.4">**</text>
<text x="0" y="2.08" font-size="5.8" text-anchor="middle" fill="#1a1a1a" stroke="#1a1a1a" stroke-width="0.2" transform="translate(149.70 217.30) scale(1.09 1)" textLength="16.15" lengthAdjust="spacingAndGlyphs">Medium</text>
<text x="0" y="2.08" font-size="5.8" text-anchor="middle" fill="#1a1a1a" stroke="#1a1a1a" stroke-width="0.2" transform="translate(173.60 217.30) scale(1.09 1)">AMI-1</text>
<text x="0" y="2.08" font-size="5.8" text-anchor="middle" fill="#1a1a1a" stroke="#1a1a1a" stroke-width="0.2" transform="translate(117.40 190.80) rotate(-90) scale(1.02 1)">CD4<tspan font-size="3.6" dy="-2.0">+</tspan><tspan dy="2.0">Foxp3</tspan><tspan font-size="3.6" dy="-2.0">+</tspan><tspan dy="2.0"> T cells (%)</tspan></text>
<text x="0" y="2.36" font-size="6.6" text-anchor="start" fill="#000" stroke="#000" stroke-width="0.2" transform="translate(189.30 160.20) scale(1.09 1)" font-weight="bold">D</text>
<text x="0" y="2.15" font-size="6.0" text-anchor="middle" fill="#1a1a1a" stroke="#1a1a1a" stroke-width="0.2" transform="translate(223.50 167.50) scale(1.09 1)">IL-6</text>
<text x="0" y="2.15" font-size="6.0" text-anchor="middle" fill="#1a1a1a" stroke="#1a1a1a" stroke-width="0.2" transform="translate(269.60 167.50) scale(1.09 1)">IL-6+AMI-1</text>
<line x1="197.00" y1="218.40" x2="197.00" y2="173.80" stroke="#6a6a6a" stroke-width="0.55" />
<path d="M196.00 175.50 L197.00 173.20 L198.00 175.50Z" fill="#2a2a2a"/>
<line x1="197.00" y1="218.40" x2="287.80" y2="218.40" stroke="#6a6a6a" stroke-width="0.55" />
<path d="M286.10 217.40 L288.40 218.40 L286.10 219.40Z" fill="#2a2a2a"/>
<rect x="204.90" y="172.00" width="37.10" height="38.10" fill="none" stroke="#727272" stroke-width="0.5" />
<line x1="201.40" y1="175.30" x2="203.00" y2="173.80" stroke="#5c5c5c" stroke-width="0.72" />
<line x1="207.50" y1="213.40" x2="209.10" y2="211.90" stroke="#5c5c5c" stroke-width="0.72" />
<line x1="201.40" y1="183.33" x2="203.00" y2="181.83" stroke="#5c5c5c" stroke-width="0.72" />
<line x1="215.40" y1="213.40" x2="217.00" y2="211.90" stroke="#5c5c5c" stroke-width="0.72" />
<line x1="201.40" y1="191.35" x2="203.00" y2="189.85" stroke="#5c5c5c" stroke-width="0.72" />
<line x1="223.30" y1="213.40" x2="224.90" y2="211.90" stroke="#5c5c5c" stroke-width="0.72" />
<line x1="201.40" y1="199.38" x2="203.00" y2="197.88" stroke="#5c5c5c" stroke-width="0.72" />
<line x1="231.20" y1="213.40" x2="232.80" y2="211.90" stroke="#5c5c5c" stroke-width="0.72" />
<line x1="201.40" y1="207.40" x2="203.00" y2="205.90" stroke="#5c5c5c" stroke-width="0.72" />
<line x1="239.10" y1="213.40" x2="240.70" y2="211.90" stroke="#5c5c5c" stroke-width="0.72" />
<rect x="250.00" y="172.00" width="38.00" height="38.10" fill="none" stroke="#727272" stroke-width="0.5" />
<line x1="246.50" y1="175.30" x2="248.10" y2="173.80" stroke="#5c5c5c" stroke-width="0.72" />
<line x1="252.60" y1="213.40" x2="254.20" y2="211.90" stroke="#5c5c5c" stroke-width="0.72" />
<line x1="246.50" y1="183.33" x2="248.10" y2="181.83" stroke="#5c5c5c" stroke-width="0.72" />
<line x1="260.73" y1="213.40" x2="262.32" y2="211.90" stroke="#5c5c5c" stroke-width="0.72" />
<line x1="246.50" y1="191.35" x2="248.10" y2="189.85" stroke="#5c5c5c" stroke-width="0.72" />
<line x1="268.85" y1="213.40" x2="270.45" y2="211.90" stroke="#5c5c5c" stroke-width="0.72" />
<line x1="246.50" y1="199.38" x2="248.10" y2="197.88" stroke="#5c5c5c" stroke-width="0.72" />
<line x1="276.98" y1="213.40" x2="278.57" y2="211.90" stroke="#5c5c5c" stroke-width="0.72" />
<line x1="246.50" y1="207.40" x2="248.10" y2="205.90" stroke="#5c5c5c" stroke-width="0.72" />
<line x1="285.10" y1="213.40" x2="286.70" y2="211.90" stroke="#5c5c5c" stroke-width="0.72" />
<rect x="219.00" y="173.30" width="20.50" height="21.70" fill="none" stroke="#9a9a9a" stroke-width="0.45" stroke-dasharray="0.7 0.5"/>
<rect x="263.20" y="173.30" width="20.00" height="22.40" fill="none" stroke="#9a9a9a" stroke-width="0.45" stroke-dasharray="0.7 0.5"/>
<path d="M226.3 201.3h.01M221.7 192.6h.01M225.1 202.9h.01M225.3 191.5h.01M221.8 195.9h.01M226.9 196.1h.01M223.0 195.2h.01M224.6 193.2h.01M224.1 197.2h.01M228.9 195.9h.01M226.9 192.1h.01M226.6 196.8h.01M222.5 196.0h.01M226.7 194.9h.01M227.1 202.1h.01M228.9 202.5h.01M220.4 197.5h.01M222.1 199.8h.01M224.3 197.0h.01M225.5 193.8h.01M224.4 193.3h.01M230.2 194.3h.01M224.2 189.2h.01M219.8 192.9h.01M226.5 199.2h.01M224.9 193.6h.01M229.6 192.1h.01M221.6 198.1h.01M221.2 197.2h.01M227.0 195.9h.01M225.3 196.3h.01M222.1 183.7h.01M220.5 196.1h.01M219.3 193.9h.01M224.7 201.4h.01M220.1 194.1h.01M224.8 198.2h.01M220.0 203.5h.01M221.7 200.4h.01M223.5 197.8h.01" stroke="#333" stroke-width="0.64" stroke-linecap="round" fill="none" opacity="0.8"/>
<g transform="translate(223.6 196) rotate(-25)">
<ellipse cx="-0.14" cy="-0.28" rx="5.40" ry="6.00" fill="#cdcdcd" stroke="#1a1a1a" stroke-width="0.7"/>
<ellipse cx="0.12" cy="-0.34" rx="4.21" ry="4.68" fill="#adadad" stroke="#1a1a1a" stroke-width="0.35"/>
<ellipse cx="0.03" cy="-0.11" rx="3.13" ry="3.48" fill="#929292" stroke="#1a1a1a" stroke-width="0.35"/>
<ellipse cx="-0.35" cy="0.01" rx="2.05" ry="2.28" fill="#707070" stroke="#1a1a1a" stroke-width="0.35"/>
<ellipse cx="-0.37" cy="-0.05" rx="0.92" ry="1.02" fill="#303030" stroke="#1a1a1a" stroke-width="0.35"/>
</g>
<g transform="translate(225.3 200.5) rotate(-20)">
<ellipse cx="0.02" cy="0.25" rx="2.60" ry="3.60" fill="#cdcdcd" stroke="#1a1a1a" stroke-width="0.7"/>
<ellipse cx="0.37" cy="-0.17" rx="2.03" ry="2.81" fill="#adadad" stroke="#1a1a1a" stroke-width="0.35"/>
<ellipse cx="0.21" cy="0.16" rx="1.51" ry="2.09" fill="#929292" stroke="#1a1a1a" stroke-width="0.35"/>
<ellipse cx="0.13" cy="-0.31" rx="0.99" ry="1.37" fill="#707070" stroke="#1a1a1a" stroke-width="0.35"/>
<ellipse cx="-0.38" cy="-0.09" rx="0.44" ry="0.61" fill="#303030" stroke="#1a1a1a" stroke-width="0.35"/>
</g>
<g transform="translate(223.3 209.0) rotate(0)">
<ellipse cx="-0.22" cy="0.37" rx="2.40" ry="0.90" fill="#cdcdcd" stroke="#1a1a1a" stroke-width="0.7"/>
<ellipse cx="-0.30" cy="0.16" rx="1.87" ry="0.70" fill="#adadad" stroke="#1a1a1a" stroke-width="0.35"/>
<ellipse cx="-0.33" cy="-0.20" rx="1.39" ry="0.52" fill="#929292" stroke="#1a1a1a" stroke-width="0.35"/>
<ellipse cx="0.40" cy="-0.23" rx="0.91" ry="0.34" fill="#707070" stroke="#1a1a1a" stroke-width="0.35"/>
<ellipse cx="0.11" cy="-0.03" rx="0.41" ry="0.15" fill="#303030" stroke="#1a1a1a" stroke-width="0.35"/>
</g>
<path d="M226.4 184.6h.01M225.1 186.4h.01M226.3 185.2h.01M226.2 187.8h.01M226.8 187.1h.01" stroke="#333" stroke-width="0.64" stroke-linecap="round" fill="none" opacity="0.8"/>
<path d="M271.4 194.4h.01M280.6 197.1h.01M270.4 196.9h.01M268.2 192.0h.01M271.5 193.1h.01M272.3 194.1h.01M264.2 189.5h.01M267.1 186.7h.01M269.6 193.8h.01M272.7 191.4h.01M269.1 197.4h.01M272.1 190.7h.01M274.6 192.4h.01M273.6 193.8h.01M268.5 189.8h.01M269.4 205.0h.01M267.8 201.4h.01M274.0 193.4h.01M273.3 200.8h.01M268.8 192.8h.01M273.3 196.5h.01M276.5 196.8h.01M266.2 194.8h.01M266.1 198.2h.01M272.0 193.3h.01M267.0 198.8h.01M268.6 200.1h.01M266.7 193.9h.01M268.1 190.7h.01M278.4 202.1h.01M267.8 198.3h.01M264.1 200.3h.01M273.2 193.6h.01M268.7 196.1h.01M271.3 193.5h.01M267.1 193.9h.01M268.5 198.3h.01M270.1 196.0h.01M264.6 193.4h.01M268.6 192.9h.01" stroke="#333" stroke-width="0.64" stroke-linecap="round" fill="none" opacity="0.8"/>
<g transform="translate(269.8 195.3) rotate(15)">
<ellipse cx="-0.03" cy="-0.10" rx="5.20" ry="5.40" fill="#cdcdcd" stroke="#1a1a1a" stroke-width="0.7"/>
<ellipse cx="-0.29" cy="0.29" rx="4.06" ry="4.21" fill="#adadad" stroke="#1a1a1a" stroke-width="0.35"/>
<ellipse cx="-0.39" cy="0.00" rx="3.02" ry="3.13" fill="#929292" stroke="#1a1a1a" stroke-width="0.35"/>
<ellipse cx="0.32" cy="-0.34" rx="1.98" ry="2.05" fill="#707070" stroke="#1a1a1a" stroke-width="0.35"/>
<ellipse cx="0.04" cy="0.09" rx="0.88" ry="0.92" fill="#303030" stroke="#1a1a1a" stroke-width="0.35"/>
</g>
<line x1="270.70" y1="185.00" x2="270.70" y2="189.50" stroke="#333" stroke-width="0.7" />
<path d="M269.4 207.0h.01M270.2 207.0h.01M269.4 206.4h.01M270.3 207.2h.01" stroke="#333" stroke-width="0.64" stroke-linecap="round" fill="none" opacity="0.8"/>
<text x="0" y="2.18" font-size="6.1" text-anchor="middle" fill="#1a1a1a" stroke="#1a1a1a" stroke-width="0.2" transform="translate(225.70 177.50) scale(1.09 1)">45.4</text>
<text x="0" y="2.18" font-size="6.1" text-anchor="middle" fill="#1a1a1a" stroke="#1a1a1a" stroke-width="0.2" transform="translate(272.40 177.50) scale(1.09 1)">66.9</text>
<text x="0" y="2.15" font-size="6.0" text-anchor="middle" fill="#1a1a1a" stroke="#1a1a1a" stroke-width="0.2" transform="translate(190.90 194.80) rotate(-90) scale(1.09 1)">Foxp3</text>
<text x="0" y="2.11" font-size="5.9" text-anchor="middle" fill="#1a1a1a" stroke="#1a1a1a" stroke-width="0.2" transform="translate(218.70 223.00) scale(1.09 1)">CD4</text>
<line x1="313.80" y1="163.00" x2="313.80" y2="215.60" stroke="#111" stroke-width="0.7" />
<line x1="311.80" y1="215.30" x2="313.80" y2="215.30" stroke="#111" stroke-width="0.6" />
<text x="0" y="2.08" font-size="5.8" text-anchor="end" fill="#1a1a1a" stroke="#1a1a1a" stroke-width="0.2" transform="translate(310.90 215.30) scale(1.09 1)">0</text>
<line x1="311.80" y1="205.32" x2="313.80" y2="205.32" stroke="#111" stroke-width="0.6" />
<text x="0" y="2.08" font-size="5.8" text-anchor="end" fill="#1a1a1a" stroke="#1a1a1a" stroke-width="0.2" transform="translate(310.90 205.32) scale(1.09 1)">20</text>
<line x1="311.80" y1="195.34" x2="313.80" y2="195.34" stroke="#111" stroke-width="0.6" />
<text x="0" y="2.08" font-size="5.8" text-anchor="end" fill="#1a1a1a" stroke="#1a1a1a" stroke-width="0.2" transform="translate(310.90 195.34) scale(1.09 1)">40</text>
<line x1="311.80" y1="185.36" x2="313.80" y2="185.36" stroke="#111" stroke-width="0.6" />
<text x="0" y="2.08" font-size="5.8" text-anchor="end" fill="#1a1a1a" stroke="#1a1a1a" stroke-width="0.2" transform="translate(310.90 185.36) scale(1.09 1)">60</text>
<line x1="311.80" y1="175.38" x2="313.80" y2="175.38" stroke="#111" stroke-width="0.6" />
<text x="0" y="2.08" font-size="5.8" text-anchor="end" fill="#1a1a1a" stroke="#1a1a1a" stroke-width="0.2" transform="translate(310.90 175.38) scale(1.09 1)">80</text>
<line x1="311.80" y1="165.40" x2="313.80" y2="165.40" stroke="#111" stroke-width="0.6" />
<text x="0" y="2.08" font-size="5.8" text-anchor="end" fill="#1a1a1a" stroke="#1a1a1a" stroke-width="0.2" transform="translate(310.90 165.40) scale(1.09 1)">100</text>
<line x1="313.80" y1="215.40" x2="352.00" y2="215.40" stroke="#111" stroke-width="0.7" />
<rect x="316.30" y="195.80" width="13.50" height="19.60" fill="#050505"/>
<line x1="323.05" y1="195.80" x2="323.05" y2="193.40" stroke="#111" stroke-width="0.55" />
<line x1="319.80" y1="193.40" x2="326.30" y2="193.40" stroke="#111" stroke-width="0.55" />
<rect x="336.50" y="179.20" width="13.50" height="36.20" fill="#050505"/>
<line x1="343.25" y1="179.20" x2="343.25" y2="177.40" stroke="#111" stroke-width="0.55" />
<line x1="340.00" y1="177.40" x2="346.50" y2="177.40" stroke="#111" stroke-width="0.55" />
<text x="343.00" y="177.99" font-size="9.4" text-anchor="middle" fill="#222" stroke="#222" stroke-width="0.2" letter-spacing="0.4">**</text>
<text x="0" y="2.08" font-size="5.8" text-anchor="middle" fill="#1a1a1a" stroke="#1a1a1a" stroke-width="0.2" transform="translate(321.60 220.60) scale(1.09 1)" textLength="9.36" lengthAdjust="spacingAndGlyphs">IL-6</text>
<text x="0" y="2.08" font-size="5.8" text-anchor="middle" fill="#1a1a1a" stroke="#1a1a1a" stroke-width="0.2" transform="translate(345.00 220.60) scale(1.09 1)" textLength="25.87" lengthAdjust="spacingAndGlyphs">IL-6+AMI-1</text>
<text x="0" y="2.08" font-size="5.8" text-anchor="middle" fill="#1a1a1a" stroke="#1a1a1a" stroke-width="0.2" transform="translate(297.00 194.70) rotate(-90) scale(1.0 1)">CD4<tspan font-size="3.6" dy="-2.0">+</tspan><tspan dy="2.0">Foxp3</tspan><tspan font-size="3.6" dy="-2.0">+</tspan><tspan dy="2.0"> T cells (%)</tspan></text>
<text x="0" y="2.36" font-size="6.6" text-anchor="start" fill="#000" stroke="#000" stroke-width="0.2" transform="translate(1.30 239.50) scale(1.09 1)" font-weight="bold">E</text>
<text x="0" y="2.08" font-size="5.8" text-anchor="middle" fill="#1a1a1a" stroke="#1a1a1a" stroke-width="0.2" transform="translate(141.80 240.00) scale(1.09 1)">Teff+Treg+ AMI-1 (µM)</text>
<line x1="71.90" y1="246.30" x2="236.20" y2="246.20" stroke="#444" stroke-width="0.52" />
<text x="0" y="2.08" font-size="5.8" text-anchor="middle" fill="#1a1a1a" stroke="#1a1a1a" stroke-width="0.2" transform="translate(46.90 250.20) scale(1.09 1)">Teff</text>
<text x="0" y="2.08" font-size="5.8" text-anchor="middle" fill="#1a1a1a" stroke="#1a1a1a" stroke-width="0.2" transform="translate(94.60 250.20) scale(1.09 1)">0</text>
<text x="0" y="2.08" font-size="5.8" text-anchor="middle" fill="#1a1a1a" stroke="#1a1a1a" stroke-width="0.2" transform="translate(138.20 250.20) scale(1.09 1)">1</text>
<text x="0" y="2.08" font-size="5.8" text-anchor="middle" fill="#1a1a1a" stroke="#1a1a1a" stroke-width="0.2" transform="translate(183.60 250.20) scale(1.09 1)">10</text>
<text x="0" y="2.08" font-size="5.8" text-anchor="middle" fill="#1a1a1a" stroke="#1a1a1a" stroke-width="0.2" transform="translate(230.00 250.20) scale(1.09 1)">100</text>
<line x1="21.70" y1="299.10" x2="21.70" y2="255.80" stroke="#6a6a6a" stroke-width="0.55" />
<path d="M20.70 257.50 L21.70 255.20 L22.70 257.50Z" fill="#2a2a2a"/>
<line x1="21.70" y1="299.10" x2="242.20" y2="299.10" stroke="#6a6a6a" stroke-width="0.55" />
<path d="M240.50 298.10 L242.80 299.10 L240.50 300.10Z" fill="#2a2a2a"/>
<rect x="27.50" y="255.80" width="37.70" height="37.00" fill="none" stroke="#727272" stroke-width="0.5" />
<line x1="24.00" y1="259.10" x2="25.60" y2="257.60" stroke="#5c5c5c" stroke-width="0.72" />
<line x1="30.10" y1="296.10" x2="31.70" y2="294.60" stroke="#5c5c5c" stroke-width="0.72" />
<line x1="24.00" y1="266.85" x2="25.60" y2="265.35" stroke="#5c5c5c" stroke-width="0.72" />
<line x1="38.15" y1="296.10" x2="39.75" y2="294.60" stroke="#5c5c5c" stroke-width="0.72" />
<line x1="24.00" y1="274.60" x2="25.60" y2="273.10" stroke="#5c5c5c" stroke-width="0.72" />
<line x1="46.20" y1="296.10" x2="47.80" y2="294.60" stroke="#5c5c5c" stroke-width="0.72" />
<line x1="24.00" y1="282.35" x2="25.60" y2="280.85" stroke="#5c5c5c" stroke-width="0.72" />
<line x1="54.25" y1="296.10" x2="55.85" y2="294.60" stroke="#5c5c5c" stroke-width="0.72" />
<line x1="24.00" y1="290.10" x2="25.60" y2="288.60" stroke="#5c5c5c" stroke-width="0.72" />
<line x1="62.30" y1="296.10" x2="63.90" y2="294.60" stroke="#5c5c5c" stroke-width="0.72" />
<rect x="37.10" y="256.60" width="20.20" height="23.80" fill="none" stroke="#9a9a9a" stroke-width="0.45" stroke-dasharray="0.7 0.5"/>
<clipPath id="ce0"><rect x="27.9" y="256.2" width="36.900000000000006" height="36.2"/></clipPath>
<g clip-path="url(#ce0)">
<ellipse cx="44.7" cy="285.3" rx="4.3" ry="4.0" fill="#000" opacity="0.95" filter="url(#bl2)"/>
<ellipse cx="46.9" cy="282.5" rx="6.2" ry="7.2" fill="#1a1a1a" opacity="0.60" filter="url(#bl2)"/>
<ellipse cx="48.2" cy="275.8" rx="5.4" ry="4.8" fill="#1a1a1a" opacity="0.90" filter="url(#bl2)"/>
<path d="M46.7 287.3h.01M45.1 281.0h.01M44.2 282.2h.01M45.7 281.9h.01M47.7 286.4h.01M51.9 286.8h.01M47.3 284.2h.01M43.1 289.1h.01M45.0 286.6h.01M45.6 287.2h.01M40.7 280.2h.01M46.5 291.3h.01M40.3 283.1h.01M45.2 283.6h.01M43.8 283.9h.01M47.8 285.1h.01M45.0 281.7h.01M46.7 289.7h.01M46.5 284.0h.01M41.6 286.2h.01M45.8 284.2h.01M39.3 282.7h.01M41.9 282.4h.01M45.0 281.9h.01M43.7 288.4h.01M42.6 284.6h.01M46.4 283.0h.01M41.0 285.5h.01M47.2 280.0h.01M43.5 283.4h.01M48.7 280.3h.01M43.6 280.7h.01M42.0 284.7h.01M43.4 284.3h.01M42.6 280.4h.01M47.3 288.7h.01M44.1 283.7h.01M48.7 286.1h.01M45.0 287.2h.01M42.3 282.4h.01M44.4 281.6h.01M44.2 285.4h.01M46.1 286.1h.01M41.2 284.3h.01M45.3 287.5h.01M47.6 284.0h.01M43.8 281.5h.01M43.2 282.5h.01M41.4 283.9h.01M47.6 288.9h.01M45.1 284.4h.01M45.2 286.9h.01M45.9 285.8h.01M43.7 284.0h.01M51.9 287.6h.01M42.3 286.9h.01M42.6 285.4h.01M43.1 285.5h.01M43.0 284.1h.01M45.8 286.4h.01M40.4 288.1h.01M39.7 280.8h.01M43.1 286.2h.01M44.1 283.4h.01M47.8 285.0h.01M44.2 287.0h.01M42.8 290.8h.01M48.7 284.8h.01M44.5 285.4h.01M46.9 286.1h.01M42.6 282.1h.01M48.2 281.2h.01M42.6 288.1h.01M41.3 286.4h.01M48.1 291.5h.01M49.1 285.5h.01M42.2 288.7h.01M48.8 289.3h.01M49.9 285.1h.01M43.7 282.0h.01M45.9 287.3h.01M43.1 285.6h.01M47.9 289.2h.01M42.9 284.4h.01M42.4 282.4h.01M47.4 287.6h.01M43.5 284.4h.01M43.1 289.9h.01M43.1 284.1h.01M42.6 286.8h.01M43.3 280.0h.01M45.3 285.4h.01M44.0 285.2h.01M45.3 286.0h.01M48.4 286.9h.01M48.0 286.9h.01M46.2 284.7h.01M44.7 281.6h.01M48.4 290.6h.01M44.2 282.5h.01M45.6 284.2h.01M47.7 280.7h.01M50.0 288.8h.01M46.0 279.4h.01M43.7 289.2h.01M45.0 282.6h.01M45.0 285.1h.01M41.8 284.9h.01M47.8 287.6h.01M48.1 286.0h.01M43.0 284.9h.01M51.4 286.7h.01M47.1 282.2h.01M48.5 285.6h.01M50.0 284.0h.01M44.2 284.3h.01M43.1 284.1h.01M44.9 285.0h.01M45.6 290.3h.01M46.5 286.5h.01M42.9 290.0h.01M42.8 279.3h.01M44.9 286.0h.01M42.5 288.7h.01M40.9 280.9h.01M44.2 284.0h.01M43.9 286.6h.01M44.1 288.8h.01M41.2 286.5h.01M51.8 285.6h.01M47.3 288.6h.01M45.0 284.4h.01M39.1 283.1h.01M48.4 285.1h.01M42.6 286.2h.01M45.1 286.5h.01M44.3 286.8h.01M43.2 290.4h.01M46.9 284.4h.01M47.0 285.4h.01M45.7 283.7h.01M43.9 284.0h.01M43.7 286.3h.01M42.9 283.3h.01M45.0 281.9h.01M44.1 285.3h.01M44.9 284.4h.01M38.3 285.1h.01M45.2 282.6h.01M46.8 284.1h.01M42.1 283.3h.01M44.1 282.9h.01M43.0 286.4h.01M49.3 282.9h.01M42.5 288.8h.01M43.3 283.7h.01M43.5 285.0h.01M44.7 286.0h.01M48.5 286.7h.01M47.5 280.7h.01M46.0 291.2h.01M42.8 288.4h.01M42.5 283.3h.01M42.8 279.9h.01M43.6 282.1h.01M48.0 281.7h.01M40.4 290.1h.01M43.9 285.4h.01M52.3 283.6h.01M41.1 284.0h.01M44.1 283.9h.01M45.8 281.5h.01M48.2 284.4h.01M43.8 289.4h.01M40.5 283.3h.01M49.4 286.0h.01M46.2 284.1h.01M47.7 286.6h.01M42.8 282.0h.01M42.6 284.6h.01M42.9 277.5h.01M42.4 284.9h.01M46.5 284.7h.01M40.8 283.1h.01M45.8 280.8h.01M43.5 282.4h.01M44.6 285.0h.01M42.4 286.3h.01M44.1 282.9h.01M45.6 287.7h.01M42.8 282.6h.01M47.1 282.9h.01M45.8 288.6h.01M44.0 285.4h.01M43.6 285.7h.01M41.6 280.7h.01M43.8 278.5h.01M48.4 288.9h.01M44.6 283.1h.01M43.2 285.3h.01" stroke="#111" stroke-width="0.6" stroke-linecap="round" fill="none" opacity="0.8"/>
<path d="M49.3 282.8h.01M46.3 279.7h.01M48.7 279.5h.01M51.1 282.3h.01M47.0 282.7h.01M46.1 286.6h.01M49.5 289.7h.01M45.5 288.2h.01M46.0 283.6h.01M43.4 284.6h.01M43.3 282.5h.01M48.3 283.6h.01M49.9 285.6h.01M49.3 278.8h.01M47.5 280.2h.01M47.6 288.2h.01M48.3 274.7h.01M49.8 286.2h.01M47.1 289.0h.01M43.5 278.9h.01M49.2 270.0h.01M39.3 284.9h.01M45.4 290.4h.01M51.9 286.1h.01M50.9 278.8h.01M43.8 288.0h.01M49.2 275.9h.01M45.0 286.2h.01M51.8 282.1h.01M45.4 287.9h.01M51.1 282.6h.01M49.5 284.6h.01M53.6 281.1h.01M45.3 278.8h.01M47.5 282.6h.01M40.2 278.6h.01M46.5 279.1h.01M49.6 281.5h.01M51.4 283.4h.01M45.8 282.5h.01M49.7 280.3h.01M46.1 282.7h.01M56.8 282.9h.01M52.3 280.7h.01M48.8 282.7h.01M47.0 282.5h.01M47.9 277.6h.01M49.8 282.6h.01M43.9 283.3h.01M45.4 281.7h.01M47.2 280.2h.01M43.1 284.4h.01M47.3 282.5h.01M53.0 281.5h.01M48.8 287.8h.01M52.9 286.7h.01M48.6 282.5h.01M47.6 287.8h.01M48.7 279.7h.01M47.3 277.7h.01M43.2 283.6h.01M47.0 288.6h.01M45.8 284.0h.01M44.9 278.1h.01M56.4 284.5h.01M47.1 277.5h.01M48.6 275.1h.01M48.0 282.3h.01M44.2 282.3h.01M46.0 279.8h.01" stroke="#333" stroke-width="0.54" stroke-linecap="round" fill="none" opacity="0.6"/>
<path d="M46.6 274.1h.01M50.9 275.8h.01M49.6 272.8h.01M47.1 274.9h.01M46.3 277.1h.01M49.6 277.6h.01M53.0 279.4h.01M45.6 275.7h.01M48.8 270.9h.01M46.9 282.2h.01M43.1 273.0h.01M47.9 278.7h.01M53.0 278.1h.01M45.4 271.7h.01M44.7 280.8h.01M48.2 269.9h.01M53.5 277.1h.01M52.7 274.3h.01M45.4 277.3h.01M48.0 277.9h.01M51.4 272.9h.01M49.7 274.1h.01M44.8 279.0h.01M50.4 278.8h.01M46.7 276.5h.01M48.3 271.1h.01M45.2 278.9h.01M49.4 275.6h.01M50.5 275.7h.01M46.8 276.7h.01M51.7 277.1h.01M51.1 278.7h.01M53.1 273.5h.01M49.1 277.7h.01M50.4 272.8h.01M50.9 275.7h.01M46.2 274.3h.01M51.1 277.8h.01M46.1 275.5h.01M52.7 275.6h.01M48.3 276.1h.01M49.6 276.8h.01M48.9 276.6h.01M48.7 273.1h.01M46.8 278.3h.01M46.3 276.7h.01M45.4 275.3h.01M47.5 279.5h.01M49.3 277.6h.01M47.3 278.4h.01M47.3 279.4h.01M47.2 271.9h.01M48.5 276.1h.01M48.9 277.7h.01M49.7 270.1h.01M50.2 281.1h.01M51.0 272.4h.01M46.4 274.6h.01M46.9 274.1h.01M46.3 279.7h.01M48.2 283.0h.01M47.8 277.2h.01M46.9 274.2h.01M45.8 277.8h.01M48.8 277.8h.01M46.0 269.5h.01M49.3 276.6h.01M49.2 276.8h.01M52.1 277.2h.01M46.5 275.7h.01M46.7 278.2h.01M46.3 280.4h.01M50.4 277.7h.01M47.2 276.2h.01M46.9 276.7h.01M47.9 274.4h.01M48.7 277.5h.01M51.6 277.8h.01M49.4 281.7h.01M47.8 275.8h.01M45.3 283.3h.01M49.8 268.8h.01M49.1 277.1h.01M51.3 279.4h.01M49.1 274.8h.01M51.2 277.7h.01M47.8 278.9h.01M43.3 279.8h.01M48.4 281.0h.01M49.4 279.6h.01M47.6 275.9h.01M52.3 274.2h.01M43.4 272.2h.01M47.6 274.8h.01M47.4 277.7h.01M54.7 275.3h.01M47.4 269.9h.01M47.3 275.9h.01M53.4 275.1h.01M52.5 273.1h.01M45.8 278.4h.01M53.7 280.7h.01M49.3 273.9h.01M46.9 274.4h.01M45.7 278.5h.01M47.4 279.2h.01M53.7 273.1h.01M49.3 269.6h.01M47.9 280.1h.01M44.1 270.9h.01M52.8 277.1h.01M46.6 272.6h.01M45.4 276.5h.01M49.0 272.5h.01M47.4 273.1h.01M51.6 273.5h.01M50.1 273.8h.01M50.7 273.5h.01M53.3 274.4h.01M50.6 278.2h.01M46.9 277.2h.01M48.0 276.8h.01M49.9 275.6h.01M51.7 272.4h.01M47.7 278.4h.01M49.8 273.0h.01M50.2 278.6h.01M48.2 275.8h.01M47.3 274.4h.01M44.5 274.2h.01M48.8 273.5h.01M49.3 272.7h.01M46.0 278.2h.01M46.5 278.6h.01M53.0 273.8h.01M47.8 276.9h.01M48.2 275.0h.01M45.4 274.3h.01M52.4 274.0h.01M49.0 271.9h.01M45.9 276.9h.01M48.8 275.7h.01M47.7 273.8h.01M45.9 277.2h.01M49.3 277.0h.01M44.6 269.1h.01M49.8 277.5h.01M46.0 274.7h.01M50.1 280.2h.01M46.7 273.7h.01M46.2 275.0h.01M47.2 278.1h.01M52.1 279.9h.01M51.7 276.5h.01M47.7 271.7h.01M49.8 279.4h.01M48.4 272.1h.01M47.0 274.0h.01M46.5 283.4h.01M45.3 278.7h.01M48.3 275.3h.01M52.3 275.2h.01M49.5 279.6h.01M48.3 273.7h.01M49.7 276.2h.01M51.9 276.2h.01M49.8 275.8h.01M49.7 270.7h.01M55.2 276.4h.01M46.9 274.4h.01M53.6 275.1h.01M45.1 279.1h.01M46.7 273.4h.01M47.5 278.7h.01M53.1 271.7h.01M48.5 272.8h.01M47.3 276.9h.01M43.8 269.5h.01M46.2 272.0h.01M47.9 278.9h.01M47.7 275.1h.01M49.4 272.3h.01M46.1 278.3h.01M49.4 271.0h.01M47.7 274.5h.01M50.7 273.6h.01M46.7 275.9h.01M46.4 280.3h.01M46.9 274.6h.01M48.6 276.3h.01M55.4 278.9h.01M48.4 270.3h.01M52.8 276.3h.01M47.8 280.9h.01M49.7 271.1h.01M46.4 273.6h.01M47.1 273.8h.01M47.1 277.0h.01M48.4 276.7h.01M49.5 275.2h.01M47.8 272.1h.01M48.1 272.3h.01M48.3 275.0h.01M46.8 273.3h.01M46.4 274.8h.01M48.1 272.3h.01M50.7 271.0h.01M47.4 277.0h.01M47.4 273.4h.01M46.9 276.3h.01M52.1 271.0h.01M47.4 276.0h.01M44.9 279.9h.01M52.4 271.4h.01M44.5 279.5h.01M47.0 275.8h.01M48.6 277.2h.01M44.7 275.5h.01M51.4 278.0h.01M48.0 270.2h.01" stroke="#222" stroke-width="0.58" stroke-linecap="round" fill="none" opacity="0.7"/>
</g>
<text x="0" y="2.29" font-size="6.4" text-anchor="middle" fill="#1a1a1a" stroke="#1a1a1a" stroke-width="0.2" transform="translate(48.20 261.70) scale(1.03 1)">39.3</text>
<rect x="74.10" y="255.80" width="37.50" height="37.00" fill="none" stroke="#727272" stroke-width="0.5" />
<line x1="70.60" y1="259.10" x2="72.20" y2="257.60" stroke="#5c5c5c" stroke-width="0.72" />
<line x1="76.70" y1="296.10" x2="78.30" y2="294.60" stroke="#5c5c5c" stroke-width="0.72" />
<line x1="70.60" y1="266.85" x2="72.20" y2="265.35" stroke="#5c5c5c" stroke-width="0.72" />
<line x1="84.70" y1="296.10" x2="86.30" y2="294.60" stroke="#5c5c5c" stroke-width="0.72" />
<line x1="70.60" y1="274.60" x2="72.20" y2="273.10" stroke="#5c5c5c" stroke-width="0.72" />
<line x1="92.70" y1="296.10" x2="94.30" y2="294.60" stroke="#5c5c5c" stroke-width="0.72" />
<line x1="70.60" y1="282.35" x2="72.20" y2="280.85" stroke="#5c5c5c" stroke-width="0.72" />
<line x1="100.70" y1="296.10" x2="102.30" y2="294.60" stroke="#5c5c5c" stroke-width="0.72" />
<line x1="70.60" y1="290.10" x2="72.20" y2="288.60" stroke="#5c5c5c" stroke-width="0.72" />
<line x1="108.70" y1="296.10" x2="110.30" y2="294.60" stroke="#5c5c5c" stroke-width="0.72" />
<rect x="83.70" y="256.60" width="20.20" height="23.80" fill="none" stroke="#9a9a9a" stroke-width="0.45" stroke-dasharray="0.7 0.5"/>
<clipPath id="ce1"><rect x="74.5" y="256.2" width="36.7" height="36.2"/></clipPath>
<g clip-path="url(#ce1)">
<ellipse cx="90.6" cy="286.1" rx="4.3" ry="4.0" fill="#000" opacity="0.95" filter="url(#bl2)"/>
<ellipse cx="92.8" cy="283.3" rx="6.2" ry="7.2" fill="#1a1a1a" opacity="0.44" filter="url(#bl2)"/>
<ellipse cx="91.6" cy="274.0" rx="5.4" ry="4.8" fill="#1a1a1a" opacity="0.46" filter="url(#bl2)"/>
<path d="M89.1 285.0h.01M97.8 284.5h.01M87.4 286.6h.01M90.8 287.6h.01M89.5 289.7h.01M92.3 286.5h.01M95.2 288.2h.01M88.8 288.0h.01M89.0 289.1h.01M89.2 286.8h.01M88.7 286.7h.01M95.2 288.9h.01M89.0 282.3h.01M92.8 284.0h.01M88.7 287.7h.01M87.8 288.0h.01M94.1 285.9h.01M88.5 285.3h.01M95.6 286.4h.01M94.7 286.0h.01M90.8 286.4h.01M90.8 286.7h.01M93.3 289.0h.01M90.0 283.4h.01M89.0 283.4h.01M86.1 285.9h.01M88.8 290.7h.01M89.2 282.1h.01M91.7 285.8h.01M93.4 286.3h.01M96.8 284.0h.01M91.2 284.7h.01M89.3 281.5h.01M92.5 281.5h.01M91.7 287.1h.01M91.8 281.7h.01M93.2 284.0h.01M91.7 284.9h.01M97.1 284.4h.01M89.9 286.6h.01M87.3 284.6h.01M89.9 286.5h.01M89.6 290.6h.01M97.0 289.1h.01M90.3 287.6h.01M97.6 290.5h.01M92.7 284.5h.01M94.4 287.9h.01M90.7 285.5h.01M87.6 282.0h.01M87.7 286.7h.01M91.1 284.0h.01M89.9 289.6h.01M87.9 284.8h.01M87.9 291.1h.01M89.6 289.6h.01M93.0 284.2h.01M92.6 286.4h.01M92.1 286.4h.01M92.6 287.4h.01M88.8 287.9h.01M88.7 282.4h.01M89.6 283.5h.01M89.0 283.0h.01M93.3 288.1h.01M89.0 289.3h.01M90.2 283.9h.01M88.2 286.9h.01M90.1 286.5h.01M100.5 288.3h.01M90.2 283.0h.01M89.5 284.0h.01M89.1 279.6h.01M90.9 282.9h.01M97.9 285.2h.01M93.6 286.8h.01M88.7 286.4h.01M89.5 284.8h.01M90.2 280.7h.01M95.1 287.3h.01M90.0 289.5h.01M88.3 279.2h.01M91.2 283.5h.01M90.2 284.3h.01M89.8 283.2h.01M90.2 287.7h.01M91.6 290.3h.01M92.3 286.9h.01M91.0 287.2h.01M90.0 282.4h.01M88.1 281.0h.01M89.8 286.0h.01M91.8 288.7h.01M89.3 280.1h.01M88.8 285.7h.01M86.3 282.5h.01M88.0 291.0h.01M94.0 283.9h.01M89.2 286.0h.01M91.1 286.3h.01M87.8 283.2h.01M94.9 285.7h.01M93.8 285.7h.01M91.1 286.5h.01M89.7 288.9h.01M93.1 285.6h.01M90.8 289.9h.01M88.3 287.9h.01M94.2 289.9h.01M95.3 283.7h.01M93.1 284.9h.01M93.1 286.2h.01M93.4 284.0h.01M90.9 287.2h.01M92.2 288.2h.01M96.6 283.4h.01M90.6 281.4h.01M92.4 290.0h.01M91.0 288.9h.01M97.3 286.9h.01M93.5 288.3h.01M88.8 282.6h.01M89.5 283.5h.01M92.4 279.9h.01M86.1 280.9h.01M91.0 285.1h.01M89.9 284.8h.01M89.3 283.7h.01M90.9 285.2h.01M91.3 285.5h.01M90.5 285.9h.01M97.3 291.2h.01M94.2 280.8h.01M92.3 289.5h.01M91.8 281.8h.01M89.9 281.9h.01M89.9 288.4h.01M90.5 282.7h.01M85.7 286.2h.01M86.8 288.3h.01M94.3 286.7h.01M90.2 285.4h.01M89.7 283.8h.01M88.3 283.2h.01M95.6 290.5h.01M90.4 287.2h.01M89.6 286.1h.01M94.9 288.4h.01M93.8 287.7h.01M93.1 283.9h.01M92.8 281.3h.01M91.0 286.7h.01M91.8 280.7h.01M93.5 282.5h.01M85.2 285.4h.01M90.1 281.4h.01M91.3 285.3h.01M90.2 282.4h.01M92.9 286.0h.01M89.8 282.7h.01M88.7 285.0h.01M86.5 283.6h.01M94.6 285.4h.01M90.2 284.7h.01M93.1 288.4h.01M91.1 284.6h.01M92.7 288.2h.01M89.9 287.1h.01M92.2 288.1h.01M90.9 284.3h.01M90.8 284.8h.01M90.3 289.7h.01M93.3 285.9h.01M91.7 287.4h.01M91.8 284.8h.01M89.5 280.2h.01M90.5 291.0h.01M88.8 289.8h.01M88.6 284.6h.01M94.3 283.2h.01M89.2 288.9h.01M89.8 287.9h.01M98.9 283.1h.01M94.4 290.7h.01M90.2 285.4h.01M93.1 287.5h.01M95.6 282.4h.01M90.3 288.6h.01M92.4 285.0h.01M93.1 287.4h.01M88.6 281.0h.01M90.7 285.5h.01M91.1 287.0h.01M88.6 284.3h.01M94.5 284.1h.01M88.0 283.2h.01M92.3 291.1h.01M94.4 282.1h.01" stroke="#111" stroke-width="0.6" stroke-linecap="round" fill="none" opacity="0.8"/>
<path d="M95.9 284.3h.01M95.9 282.9h.01M92.6 276.3h.01M88.7 284.1h.01M88.1 285.3h.01M91.5 281.3h.01M90.1 280.9h.01M90.9 282.1h.01M92.0 280.2h.01M92.0 285.8h.01M92.3 285.4h.01M92.6 276.6h.01M97.9 283.8h.01M97.8 285.6h.01M90.1 285.7h.01M93.0 275.5h.01M91.7 279.6h.01M97.1 285.9h.01M87.7 280.9h.01M94.5 281.0h.01M89.4 286.3h.01M87.3 288.1h.01M96.8 283.2h.01M98.1 274.3h.01M90.7 282.7h.01M90.8 280.8h.01M91.8 279.2h.01M94.5 288.0h.01M93.1 278.0h.01M90.0 279.8h.01M92.3 282.7h.01M89.2 288.9h.01M88.5 282.3h.01M93.6 282.5h.01M92.1 278.0h.01M95.5 282.8h.01M89.9 283.0h.01M95.2 279.9h.01M93.5 278.6h.01M103.3 278.8h.01M96.6 289.4h.01M95.4 285.3h.01M95.9 279.9h.01M92.9 282.9h.01M100.8 282.1h.01M96.2 281.9h.01M91.3 288.8h.01M97.9 284.5h.01M94.0 285.0h.01M92.6 279.7h.01M98.7 282.4h.01M89.8 279.3h.01M101.4 285.1h.01M89.4 281.6h.01M90.3 281.7h.01M94.5 286.2h.01M91.2 280.0h.01M94.3 276.6h.01M94.3 283.1h.01M95.5 278.5h.01M95.9 286.6h.01M89.0 280.8h.01M87.2 284.2h.01M101.2 283.6h.01M91.9 278.9h.01M94.4 284.2h.01M91.5 276.8h.01M91.6 282.5h.01M96.4 285.7h.01" stroke="#333" stroke-width="0.54" stroke-linecap="round" fill="none" opacity="0.6"/>
<path d="M88.5 277.4h.01M89.2 274.1h.01M92.0 278.7h.01M91.4 282.5h.01M91.9 282.2h.01M94.2 276.0h.01M86.6 271.4h.01M93.0 271.7h.01M88.7 269.3h.01M94.0 279.3h.01M94.5 266.4h.01M92.5 279.1h.01M86.4 276.1h.01M91.7 273.4h.01M96.7 271.9h.01M90.4 282.1h.01M95.2 280.5h.01M91.2 273.6h.01M92.5 271.4h.01M93.2 274.8h.01M94.3 275.8h.01M90.5 281.0h.01M90.8 275.0h.01M96.1 274.1h.01M97.3 279.1h.01M91.6 269.9h.01M90.0 272.9h.01M93.7 272.4h.01M93.9 277.3h.01M96.7 267.7h.01M90.4 275.6h.01M90.6 274.4h.01M90.4 272.7h.01M90.5 279.4h.01M95.4 272.5h.01M90.5 281.6h.01M89.3 271.7h.01M88.3 277.4h.01M91.0 275.7h.01M90.4 276.2h.01M92.4 275.4h.01M91.1 271.7h.01M94.4 270.5h.01M93.9 270.0h.01M96.5 276.1h.01M94.6 274.6h.01M93.5 270.6h.01M94.5 271.9h.01M92.0 270.8h.01M89.9 277.8h.01M89.6 274.4h.01M92.3 270.9h.01M94.9 272.6h.01M87.0 278.1h.01M89.5 273.3h.01M89.6 271.6h.01M93.7 274.5h.01M90.8 278.3h.01M89.4 274.9h.01M89.5 278.7h.01M90.7 275.6h.01M93.0 279.4h.01M90.8 276.6h.01M92.1 274.7h.01M92.3 273.8h.01M91.6 276.3h.01M91.1 280.3h.01M98.3 276.8h.01M89.1 274.5h.01M87.1 273.4h.01M93.3 277.1h.01M93.3 278.6h.01M92.5 280.4h.01M85.7 270.1h.01M95.3 271.7h.01M94.4 274.3h.01M90.3 270.5h.01M90.6 272.9h.01M94.2 276.4h.01M91.5 273.3h.01M92.2 271.4h.01M90.3 277.7h.01M90.5 272.8h.01M89.3 269.0h.01M89.4 280.6h.01M93.6 268.3h.01M88.9 272.6h.01M94.9 274.4h.01M99.4 274.0h.01M99.2 276.8h.01M93.0 277.0h.01M92.5 275.9h.01M88.6 269.9h.01M89.2 278.0h.01M90.2 273.8h.01M95.8 277.5h.01M86.2 276.3h.01M91.3 275.4h.01M95.3 270.2h.01M94.1 273.8h.01M92.9 272.5h.01M94.4 270.6h.01M91.4 275.8h.01M88.5 272.9h.01M86.8 274.1h.01M92.4 277.0h.01M93.0 274.6h.01M93.7 268.8h.01M91.5 270.8h.01M90.3 273.6h.01M96.0 275.8h.01M93.9 278.7h.01M92.4 273.4h.01M91.2 275.6h.01M94.4 281.1h.01M89.9 270.2h.01" stroke="#222" stroke-width="0.58" stroke-linecap="round" fill="none" opacity="0.7"/>
</g>
<text x="0" y="2.29" font-size="6.4" text-anchor="middle" fill="#1a1a1a" stroke="#1a1a1a" stroke-width="0.2" transform="translate(92.40 261.70) scale(1.03 1)">19.8</text>
<rect x="120.00" y="255.80" width="37.80" height="37.00" fill="none" stroke="#727272" stroke-width="0.5" />
<line x1="116.50" y1="259.10" x2="118.10" y2="257.60" stroke="#5c5c5c" stroke-width="0.72" />
<line x1="122.60" y1="296.10" x2="124.20" y2="294.60" stroke="#5c5c5c" stroke-width="0.72" />
<line x1="116.50" y1="266.85" x2="118.10" y2="265.35" stroke="#5c5c5c" stroke-width="0.72" />
<line x1="130.67" y1="296.10" x2="132.27" y2="294.60" stroke="#5c5c5c" stroke-width="0.72" />
<line x1="116.50" y1="274.60" x2="118.10" y2="273.10" stroke="#5c5c5c" stroke-width="0.72" />
<line x1="138.75" y1="296.10" x2="140.35" y2="294.60" stroke="#5c5c5c" stroke-width="0.72" />
<line x1="116.50" y1="282.35" x2="118.10" y2="280.85" stroke="#5c5c5c" stroke-width="0.72" />
<line x1="146.83" y1="296.10" x2="148.43" y2="294.60" stroke="#5c5c5c" stroke-width="0.72" />
<line x1="116.50" y1="290.10" x2="118.10" y2="288.60" stroke="#5c5c5c" stroke-width="0.72" />
<line x1="154.90" y1="296.10" x2="156.50" y2="294.60" stroke="#5c5c5c" stroke-width="0.72" />
<rect x="129.60" y="256.60" width="20.20" height="23.80" fill="none" stroke="#9a9a9a" stroke-width="0.45" stroke-dasharray="0.7 0.5"/>
<clipPath id="ce2"><rect x="120.4" y="256.2" width="37.000000000000014" height="36.2"/></clipPath>
<g clip-path="url(#ce2)">
<ellipse cx="136.4" cy="286.1" rx="4.3" ry="4.0" fill="#000" opacity="0.95" filter="url(#bl2)"/>
<ellipse cx="138.6" cy="283.3" rx="6.2" ry="7.2" fill="#1a1a1a" opacity="0.43" filter="url(#bl2)"/>
<ellipse cx="136.8" cy="274.6" rx="5.4" ry="4.8" fill="#1a1a1a" opacity="0.40" filter="url(#bl2)"/>
<path d="M138.9 288.7h.01M138.7 289.4h.01M134.5 284.2h.01M134.1 283.5h.01M140.1 286.7h.01M134.3 283.6h.01M140.1 282.9h.01M135.1 287.1h.01M140.4 289.2h.01M135.1 282.5h.01M133.9 286.9h.01M136.8 288.9h.01M139.0 288.7h.01M134.0 283.0h.01M136.1 286.9h.01M134.5 289.2h.01M132.7 285.5h.01M134.2 286.9h.01M137.8 284.9h.01M137.3 289.1h.01M134.6 283.8h.01M134.0 284.8h.01M134.0 281.0h.01M138.3 282.5h.01M131.2 287.0h.01M133.4 287.0h.01M139.6 282.9h.01M133.5 288.5h.01M132.4 282.4h.01M134.3 283.6h.01M140.2 285.3h.01M132.2 289.4h.01M138.1 285.3h.01M142.1 288.1h.01M138.6 284.1h.01M136.0 289.7h.01M138.3 285.1h.01M133.3 287.0h.01M136.7 288.4h.01M138.5 288.1h.01M136.3 286.9h.01M135.2 286.8h.01M137.5 286.8h.01M134.5 286.9h.01M135.8 283.1h.01M136.2 287.5h.01M135.1 289.9h.01M137.2 288.6h.01M138.3 281.2h.01M132.3 287.0h.01M135.2 284.3h.01M137.8 286.7h.01M136.9 283.3h.01M140.7 280.0h.01M139.4 284.4h.01M138.8 285.9h.01M137.1 289.5h.01M134.7 280.2h.01M134.7 279.5h.01M134.6 283.5h.01M137.5 284.0h.01M137.1 281.7h.01M136.9 285.1h.01M139.2 291.7h.01M138.4 288.0h.01M134.2 284.0h.01M142.3 281.3h.01M135.5 287.0h.01M139.3 284.3h.01M136.1 287.2h.01M140.6 286.0h.01M135.6 289.1h.01M139.6 284.4h.01M137.3 285.5h.01M136.4 281.4h.01M136.9 285.6h.01M133.5 285.7h.01M134.2 284.1h.01M135.5 291.4h.01M139.9 283.0h.01M140.3 285.0h.01M140.7 287.7h.01M140.6 288.5h.01M135.3 284.4h.01M136.8 286.6h.01M137.1 291.1h.01M138.2 287.6h.01M134.2 286.2h.01M138.6 285.4h.01M134.7 286.0h.01M140.1 288.3h.01M134.8 288.3h.01M135.8 284.8h.01M141.0 287.1h.01M136.8 285.8h.01M129.8 288.3h.01M141.2 279.0h.01M130.7 284.5h.01M139.7 286.8h.01M138.1 283.7h.01M134.0 286.8h.01M133.4 289.1h.01M138.5 285.5h.01M134.5 290.0h.01M136.0 281.0h.01M134.2 280.5h.01M138.8 282.8h.01M135.9 286.9h.01M140.4 281.8h.01M138.2 284.5h.01M135.8 279.8h.01M136.3 286.3h.01M137.2 287.4h.01M134.5 281.4h.01M138.3 282.2h.01M145.1 284.9h.01M131.8 288.0h.01M135.8 283.9h.01M135.0 285.0h.01M133.1 288.6h.01M140.3 286.0h.01M134.6 286.6h.01M139.9 287.1h.01M135.6 286.8h.01M133.6 288.1h.01M141.3 288.0h.01M139.4 287.3h.01M133.4 289.6h.01M140.4 283.1h.01M135.6 288.0h.01M137.9 283.0h.01M133.9 282.7h.01M137.3 288.2h.01M139.0 285.1h.01M137.2 284.6h.01M140.1 286.1h.01M135.5 289.2h.01M136.2 285.1h.01M134.1 285.8h.01M141.5 283.0h.01M140.3 283.0h.01M134.5 288.8h.01M134.2 285.1h.01M135.4 289.4h.01M138.1 284.6h.01M135.4 287.0h.01M134.8 287.7h.01M140.2 287.9h.01M134.0 289.7h.01M136.4 290.0h.01M138.2 285.6h.01M132.4 290.8h.01M134.6 287.1h.01M139.7 289.8h.01M134.2 290.6h.01M134.9 285.2h.01M143.4 285.5h.01M136.1 282.3h.01M136.3 279.5h.01M136.9 287.6h.01M136.4 283.1h.01M142.5 285.3h.01M134.9 285.6h.01M134.0 283.5h.01M133.0 283.6h.01M131.8 286.6h.01M135.1 284.9h.01M137.0 284.4h.01M142.5 282.5h.01M136.9 287.4h.01M135.4 283.1h.01M133.7 288.9h.01M135.5 287.0h.01M132.1 284.1h.01M137.7 285.5h.01M136.1 283.5h.01M139.4 285.3h.01M138.5 287.2h.01M134.8 285.6h.01M136.5 283.5h.01M136.0 283.9h.01M133.1 286.0h.01M136.9 287.9h.01M137.9 283.6h.01M134.5 288.7h.01M134.6 281.0h.01M132.4 283.8h.01M142.2 282.1h.01M140.7 283.9h.01M135.4 283.4h.01M142.1 289.4h.01M134.5 287.0h.01M132.8 284.5h.01M136.9 284.7h.01M137.8 279.8h.01M144.1 285.0h.01M132.3 283.4h.01M132.8 283.1h.01M139.4 285.6h.01" stroke="#111" stroke-width="0.6" stroke-linecap="round" fill="none" opacity="0.8"/>
<path d="M138.8 276.8h.01M137.0 284.3h.01M135.6 272.9h.01M134.2 286.4h.01M143.3 284.0h.01M139.8 287.5h.01M134.8 277.5h.01M133.7 281.6h.01M137.7 284.8h.01M134.7 284.3h.01M138.1 281.7h.01M138.3 286.0h.01M133.8 284.3h.01M138.2 284.1h.01M145.1 277.7h.01M138.5 281.6h.01M138.2 285.4h.01M140.2 281.7h.01M140.4 284.9h.01M139.0 280.1h.01M141.9 282.4h.01M137.4 280.6h.01M137.1 290.9h.01M141.4 282.8h.01M137.8 284.0h.01M139.7 286.7h.01M135.3 282.1h.01M137.5 284.8h.01M136.3 281.5h.01M134.8 292.1h.01M138.0 282.4h.01M149.0 279.8h.01M133.3 290.3h.01M145.7 288.6h.01M142.4 290.1h.01M135.7 273.3h.01M137.2 288.6h.01M140.4 282.0h.01M140.4 287.7h.01M139.2 283.8h.01M142.2 283.2h.01M136.8 279.0h.01M137.9 282.2h.01M142.7 286.0h.01M138.7 283.4h.01M143.9 285.1h.01M143.1 281.6h.01M141.1 282.9h.01M136.6 276.0h.01M139.6 287.3h.01M143.4 284.0h.01M138.5 277.9h.01M139.0 279.8h.01M137.0 278.7h.01M137.6 281.8h.01M135.2 284.5h.01M138.8 288.1h.01M142.6 283.3h.01M144.0 280.6h.01M133.6 282.5h.01M137.3 278.1h.01M135.0 288.8h.01M135.8 280.9h.01M137.4 284.5h.01M140.4 288.1h.01M134.4 281.1h.01M136.1 284.1h.01M136.6 281.7h.01M144.1 281.4h.01M137.5 287.4h.01" stroke="#333" stroke-width="0.54" stroke-linecap="round" fill="none" opacity="0.6"/>
<path d="M140.3 273.7h.01M134.5 273.4h.01M137.1 275.4h.01M134.7 276.9h.01M137.2 271.7h.01M138.2 274.3h.01M136.5 274.0h.01M137.1 276.2h.01M141.1 273.9h.01M132.7 272.5h.01M139.5 273.7h.01M138.4 272.6h.01M135.6 268.8h.01M134.5 277.8h.01M136.7 273.2h.01M136.9 272.5h.01M136.4 276.9h.01M135.7 282.1h.01M132.9 277.2h.01M138.2 276.4h.01M140.1 274.9h.01M140.1 273.4h.01M136.6 272.7h.01M138.7 275.4h.01M141.1 273.2h.01M141.3 272.2h.01M136.7 276.7h.01M135.9 273.5h.01M134.1 275.0h.01M136.7 283.1h.01M143.0 277.2h.01M144.2 276.7h.01M135.7 275.6h.01M134.4 271.1h.01M134.8 276.8h.01M135.9 272.4h.01M135.5 279.2h.01M132.8 276.3h.01M133.5 276.3h.01M135.3 273.9h.01M135.0 277.7h.01M133.5 275.5h.01M135.3 270.2h.01M137.0 281.0h.01M139.1 273.1h.01M139.5 272.5h.01M136.7 275.7h.01M135.5 270.1h.01M135.6 271.8h.01M137.0 274.7h.01M134.5 271.4h.01M141.8 272.9h.01M131.1 272.0h.01M143.6 275.2h.01M134.4 274.3h.01M135.3 272.6h.01M132.3 274.5h.01M135.1 268.0h.01M135.4 274.7h.01M133.2 275.0h.01M135.6 278.7h.01M135.8 271.9h.01M141.4 274.6h.01M134.8 283.5h.01M141.3 275.0h.01M132.9 271.2h.01M140.1 269.2h.01M136.3 270.0h.01M136.4 269.4h.01M134.7 275.0h.01M138.2 277.4h.01M132.2 273.7h.01M137.2 281.3h.01M137.3 271.7h.01M134.0 266.8h.01M140.5 271.0h.01M135.7 277.3h.01M135.4 276.2h.01M132.9 276.3h.01M136.6 272.0h.01M135.2 271.0h.01M138.5 275.9h.01M136.8 275.9h.01M135.6 270.4h.01M133.4 280.2h.01M135.6 275.7h.01M134.8 276.1h.01M138.0 277.3h.01M135.9 270.3h.01M140.4 277.2h.01M136.0 273.8h.01M136.0 279.5h.01M138.1 269.2h.01M134.5 280.3h.01M133.7 273.6h.01M136.3 277.3h.01M137.8 275.9h.01M136.5 273.3h.01M135.6 271.8h.01M135.8 277.8h.01M139.2 271.1h.01M134.1 276.2h.01M136.3 274.2h.01M137.7 281.2h.01" stroke="#222" stroke-width="0.58" stroke-linecap="round" fill="none" opacity="0.7"/>
</g>
<text x="0" y="2.29" font-size="6.4" text-anchor="middle" fill="#1a1a1a" stroke="#1a1a1a" stroke-width="0.2" transform="translate(138.60 261.70) scale(1.03 1)">17.4</text>
<rect x="166.30" y="255.80" width="38.10" height="37.00" fill="none" stroke="#727272" stroke-width="0.5" />
<line x1="162.80" y1="259.10" x2="164.40" y2="257.60" stroke="#5c5c5c" stroke-width="0.72" />
<line x1="168.90" y1="296.10" x2="170.50" y2="294.60" stroke="#5c5c5c" stroke-width="0.72" />
<line x1="162.80" y1="266.85" x2="164.40" y2="265.35" stroke="#5c5c5c" stroke-width="0.72" />
<line x1="177.05" y1="296.10" x2="178.65" y2="294.60" stroke="#5c5c5c" stroke-width="0.72" />
<line x1="162.80" y1="274.60" x2="164.40" y2="273.10" stroke="#5c5c5c" stroke-width="0.72" />
<line x1="185.20" y1="296.10" x2="186.80" y2="294.60" stroke="#5c5c5c" stroke-width="0.72" />
<line x1="162.80" y1="282.35" x2="164.40" y2="280.85" stroke="#5c5c5c" stroke-width="0.72" />
<line x1="193.35" y1="296.10" x2="194.95" y2="294.60" stroke="#5c5c5c" stroke-width="0.72" />
<line x1="162.80" y1="290.10" x2="164.40" y2="288.60" stroke="#5c5c5c" stroke-width="0.72" />
<line x1="201.50" y1="296.10" x2="203.10" y2="294.60" stroke="#5c5c5c" stroke-width="0.72" />
<rect x="175.90" y="256.60" width="20.20" height="23.80" fill="none" stroke="#9a9a9a" stroke-width="0.45" stroke-dasharray="0.7 0.5"/>
<clipPath id="ce3"><rect x="166.70000000000002" y="256.2" width="37.3" height="36.2"/></clipPath>
<g clip-path="url(#ce3)">
<ellipse cx="183.6" cy="286.3" rx="4.3" ry="4.0" fill="#000" opacity="0.95" filter="url(#bl2)"/>
<ellipse cx="185.8" cy="283.5" rx="6.2" ry="7.2" fill="#1a1a1a" opacity="0.38" filter="url(#bl2)"/>
<ellipse cx="186.6" cy="274.2" rx="5.4" ry="4.8" fill="#1a1a1a" opacity="0.26" filter="url(#bl2)"/>
<path d="M187.0 285.6h.01M182.7 281.8h.01M183.6 287.0h.01M182.5 285.2h.01M180.1 289.7h.01M184.5 285.1h.01M185.4 286.9h.01M183.7 285.5h.01M183.6 287.2h.01M186.2 288.3h.01M184.7 288.4h.01M183.0 281.9h.01M180.2 288.3h.01M179.9 283.9h.01M183.3 288.5h.01M179.0 283.0h.01M181.6 284.0h.01M183.3 288.1h.01M188.8 282.4h.01M180.1 285.3h.01M182.6 288.9h.01M185.5 288.2h.01M183.3 287.2h.01M184.6 285.4h.01M185.3 282.3h.01M186.6 287.6h.01M193.3 285.8h.01M180.1 284.3h.01M182.9 283.9h.01M180.7 284.9h.01M180.3 289.0h.01M180.1 287.5h.01M186.7 287.1h.01M188.0 287.0h.01M186.3 283.7h.01M180.7 284.6h.01M183.7 288.5h.01M180.7 284.2h.01M181.6 288.0h.01M182.0 288.9h.01M182.5 283.9h.01M181.7 281.4h.01M177.7 284.3h.01M181.6 291.4h.01M184.6 288.2h.01M183.7 285.4h.01M180.2 282.5h.01M188.1 284.6h.01M182.3 287.9h.01M182.8 285.3h.01M190.2 286.9h.01M182.5 284.9h.01M181.8 286.9h.01M185.2 284.4h.01M182.8 281.8h.01M182.6 287.8h.01M181.3 285.7h.01M181.8 284.7h.01M184.3 283.4h.01M187.1 289.4h.01M187.4 283.6h.01M179.3 284.5h.01M183.7 285.9h.01M182.9 286.0h.01M182.5 287.7h.01M180.3 286.9h.01M185.0 284.4h.01M195.9 286.7h.01M184.2 282.8h.01M184.1 286.6h.01M187.1 284.7h.01M187.1 282.5h.01M183.3 281.3h.01M183.3 288.0h.01M180.1 287.8h.01M184.9 281.8h.01M181.3 284.6h.01M185.0 289.6h.01M181.9 283.4h.01M182.5 278.8h.01M184.8 285.6h.01M182.6 289.5h.01M182.7 284.0h.01M186.7 284.8h.01M183.4 285.2h.01M183.2 286.5h.01M184.4 282.9h.01M187.7 285.0h.01M182.4 288.2h.01M182.3 287.2h.01M187.1 288.4h.01M182.4 288.6h.01M182.9 284.0h.01M181.6 286.8h.01M181.9 289.4h.01M186.1 287.5h.01M187.2 288.5h.01M180.3 286.4h.01M179.6 285.3h.01M182.4 282.5h.01M185.1 286.3h.01M183.3 283.3h.01M188.1 285.4h.01M185.8 282.1h.01M188.1 285.1h.01M186.6 285.0h.01M183.2 287.2h.01M183.2 291.5h.01M183.0 285.4h.01M187.0 286.5h.01M181.4 285.3h.01M185.9 286.3h.01M187.2 283.1h.01M184.4 284.1h.01M182.6 284.5h.01M181.7 292.2h.01M183.9 288.1h.01M184.7 291.1h.01M182.3 282.8h.01M185.5 283.7h.01M188.4 283.7h.01M182.8 287.8h.01M181.1 285.3h.01M184.5 282.3h.01M183.2 282.5h.01M183.0 290.3h.01M188.1 285.6h.01M182.9 284.2h.01M186.0 287.9h.01M180.6 283.7h.01M180.8 286.5h.01M184.2 286.4h.01M185.5 287.6h.01M183.4 287.4h.01M182.3 288.0h.01M186.9 280.6h.01M188.9 285.8h.01M185.8 286.1h.01M188.5 286.0h.01M184.7 284.6h.01M183.4 287.2h.01M181.4 285.6h.01M182.2 286.3h.01M186.6 286.4h.01M187.7 284.3h.01M182.6 285.6h.01M181.5 287.0h.01M181.9 284.1h.01M184.2 284.0h.01M183.3 285.7h.01M187.0 289.7h.01M185.0 284.2h.01M182.6 285.4h.01M187.7 285.8h.01M182.6 288.9h.01M181.5 288.5h.01M181.6 287.3h.01M183.1 283.8h.01M186.0 282.2h.01M185.1 285.5h.01M186.8 282.9h.01M186.4 291.2h.01M182.0 286.0h.01M184.1 284.2h.01M184.0 285.5h.01M182.3 282.5h.01M188.4 281.8h.01M182.8 281.0h.01M178.7 287.4h.01M180.3 287.8h.01M183.3 283.4h.01M185.6 282.3h.01M185.7 288.9h.01M180.6 286.3h.01M188.5 286.7h.01M180.6 288.6h.01M183.3 286.5h.01M180.5 286.8h.01M184.1 282.8h.01M184.8 284.9h.01M185.8 287.9h.01M181.4 282.3h.01M187.5 287.4h.01M181.8 288.6h.01M184.9 286.9h.01M182.1 284.2h.01M187.3 285.5h.01M182.5 287.4h.01M180.9 285.5h.01M179.8 285.8h.01M181.8 281.5h.01M190.3 290.0h.01M182.3 285.1h.01M182.7 285.5h.01M182.5 286.5h.01" stroke="#111" stroke-width="0.6" stroke-linecap="round" fill="none" opacity="0.8"/>
<path d="M192.3 287.4h.01M184.2 281.3h.01M186.5 277.5h.01M188.2 277.9h.01M184.8 275.8h.01M184.9 284.6h.01M187.2 281.7h.01M178.8 278.5h.01M184.4 285.6h.01M184.4 284.9h.01M185.5 279.5h.01M190.6 285.5h.01M185.4 285.6h.01M193.5 283.8h.01M183.3 287.0h.01M180.9 284.0h.01M190.9 285.4h.01M187.1 280.0h.01M183.6 284.5h.01M183.0 292.1h.01M186.4 289.8h.01M192.5 285.0h.01M192.0 286.6h.01M188.2 284.2h.01M185.3 286.4h.01M186.3 278.1h.01M188.1 283.8h.01M182.3 286.2h.01M183.8 279.3h.01M189.1 273.5h.01M197.8 279.0h.01M196.2 277.0h.01M184.8 276.7h.01M183.5 280.9h.01M187.6 279.5h.01M189.3 280.5h.01M193.6 284.1h.01M185.3 283.0h.01M188.6 276.2h.01M188.8 279.7h.01M187.0 285.6h.01M182.1 281.5h.01M183.9 281.9h.01M192.3 292.1h.01M195.5 282.9h.01M184.6 282.8h.01M186.5 288.2h.01M190.0 278.3h.01M192.8 288.9h.01M184.0 279.5h.01M186.0 278.7h.01M185.0 282.8h.01M194.1 287.5h.01M181.9 286.5h.01M183.9 286.0h.01M192.3 288.7h.01M185.4 290.2h.01M187.1 286.2h.01M191.0 286.4h.01M190.6 280.1h.01M184.4 280.5h.01M187.5 282.4h.01M185.5 288.4h.01M184.3 280.3h.01M184.5 281.9h.01M189.7 284.3h.01M181.3 279.0h.01M180.2 285.0h.01M186.7 271.9h.01M184.9 278.7h.01" stroke="#333" stroke-width="0.54" stroke-linecap="round" fill="none" opacity="0.6"/>
<path d="M194.1 275.9h.01M189.8 283.9h.01M188.7 273.4h.01M184.4 273.9h.01M183.4 277.2h.01M187.6 272.0h.01M183.4 272.9h.01M185.7 273.3h.01M184.6 276.6h.01M191.4 271.5h.01M185.8 271.9h.01M188.5 273.3h.01M185.9 275.8h.01M183.3 271.2h.01M185.4 268.5h.01M185.7 269.7h.01M186.5 282.3h.01M191.3 273.9h.01M192.6 274.1h.01M190.1 270.4h.01M188.3 269.7h.01M190.4 278.6h.01M184.7 277.9h.01M189.3 272.0h.01M186.2 278.2h.01M190.5 269.9h.01M192.9 273.9h.01M187.7 270.7h.01M189.4 281.0h.01M193.4 276.1h.01M185.6 272.4h.01M188.9 278.6h.01M189.4 275.7h.01M187.8 275.3h.01M186.6 278.9h.01M192.2 275.3h.01M185.5 272.4h.01M186.4 273.1h.01M186.5 278.0h.01M189.2 270.4h.01M193.7 276.2h.01M187.7 275.9h.01M185.9 273.6h.01M185.3 275.4h.01M184.7 275.1h.01M184.9 275.6h.01M183.4 274.8h.01M184.3 276.1h.01M186.0 277.3h.01M189.4 275.9h.01M185.3 274.2h.01M185.5 277.9h.01M183.5 274.6h.01M186.5 280.1h.01M190.5 280.0h.01M185.7 276.3h.01M183.9 280.8h.01M184.8 267.0h.01M189.8 274.0h.01M186.9 273.3h.01M187.5 271.9h.01M185.0 278.3h.01M183.8 274.0h.01M185.7 277.1h.01M187.2 273.8h.01M190.7 274.8h.01M188.5 275.4h.01M186.5 274.9h.01M182.1 279.7h.01M187.1 273.5h.01M192.8 273.7h.01M187.7 272.6h.01M186.1 275.9h.01M186.3 269.1h.01" stroke="#222" stroke-width="0.58" stroke-linecap="round" fill="none" opacity="0.7"/>
</g>
<text x="0" y="2.29" font-size="6.4" text-anchor="middle" fill="#1a1a1a" stroke="#1a1a1a" stroke-width="0.2" transform="translate(185.70 261.70) scale(1.03 1)">12.0</text>
<rect x="212.50" y="255.80" width="37.70" height="37.00" fill="none" stroke="#727272" stroke-width="0.5" />
<line x1="209.00" y1="259.10" x2="210.60" y2="257.60" stroke="#5c5c5c" stroke-width="0.72" />
<line x1="215.10" y1="296.10" x2="216.70" y2="294.60" stroke="#5c5c5c" stroke-width="0.72" />
<line x1="209.00" y1="266.85" x2="210.60" y2="265.35" stroke="#5c5c5c" stroke-width="0.72" />
<line x1="223.15" y1="296.10" x2="224.75" y2="294.60" stroke="#5c5c5c" stroke-width="0.72" />
<line x1="209.00" y1="274.60" x2="210.60" y2="273.10" stroke="#5c5c5c" stroke-width="0.72" />
<line x1="231.20" y1="296.10" x2="232.80" y2="294.60" stroke="#5c5c5c" stroke-width="0.72" />
<line x1="209.00" y1="282.35" x2="210.60" y2="280.85" stroke="#5c5c5c" stroke-width="0.72" />
<line x1="239.25" y1="296.10" x2="240.85" y2="294.60" stroke="#5c5c5c" stroke-width="0.72" />
<line x1="209.00" y1="290.10" x2="210.60" y2="288.60" stroke="#5c5c5c" stroke-width="0.72" />
<line x1="247.30" y1="296.10" x2="248.90" y2="294.60" stroke="#5c5c5c" stroke-width="0.72" />
<rect x="222.10" y="256.60" width="20.20" height="23.80" fill="none" stroke="#9a9a9a" stroke-width="0.45" stroke-dasharray="0.7 0.5"/>
<clipPath id="ce4"><rect x="212.9" y="256.2" width="36.89999999999999" height="36.2"/></clipPath>
<g clip-path="url(#ce4)">
<ellipse cx="230.6" cy="287.1" rx="4.3" ry="4.0" fill="#000" opacity="0.95" filter="url(#bl2)"/>
<ellipse cx="232.8" cy="284.3" rx="6.2" ry="7.2" fill="#1a1a1a" opacity="0.37" filter="url(#bl2)"/>
<ellipse cx="230.8" cy="275.8" rx="5.4" ry="4.8" fill="#1a1a1a" opacity="0.23" filter="url(#bl2)"/>
<path d="M237.0 285.5h.01M230.1 284.9h.01M228.7 290.4h.01M230.5 286.4h.01M233.9 291.6h.01M234.0 289.4h.01M228.9 290.1h.01M233.2 284.2h.01M228.9 288.2h.01M228.2 284.3h.01M228.4 288.4h.01M228.8 286.3h.01M232.2 289.8h.01M234.0 288.9h.01M232.3 282.2h.01M230.3 289.5h.01M233.1 285.7h.01M232.6 286.7h.01M230.8 286.2h.01M228.5 282.7h.01M227.5 285.7h.01M240.1 282.3h.01M232.1 289.7h.01M233.5 287.4h.01M231.5 288.0h.01M229.7 286.0h.01M230.6 287.1h.01M231.3 285.0h.01M234.6 288.4h.01M229.7 283.2h.01M227.9 285.9h.01M230.0 284.6h.01M233.2 283.5h.01M234.8 282.5h.01M232.5 284.1h.01M227.0 286.2h.01M229.9 286.5h.01M232.3 285.9h.01M228.1 287.1h.01M234.0 288.7h.01M227.1 284.2h.01M229.0 285.4h.01M225.6 284.2h.01M227.7 283.0h.01M235.5 287.1h.01M230.8 288.3h.01M229.7 288.2h.01M232.3 287.7h.01M230.6 288.8h.01M230.7 285.8h.01M230.7 287.6h.01M228.8 286.7h.01M228.8 286.4h.01M231.6 289.6h.01M236.7 289.2h.01M228.4 285.8h.01M225.6 284.9h.01M228.3 286.9h.01M231.0 289.3h.01M231.0 283.3h.01M232.4 288.6h.01M231.5 281.1h.01M230.0 286.9h.01M228.3 285.8h.01M233.4 287.2h.01M231.0 286.3h.01M231.2 288.2h.01M231.2 284.7h.01M229.1 283.2h.01M233.9 287.0h.01M234.8 290.0h.01M228.3 287.0h.01M232.7 282.3h.01M231.7 287.3h.01M229.5 288.8h.01M228.3 287.8h.01M235.3 286.1h.01M234.9 285.9h.01M230.8 290.1h.01M232.7 289.7h.01M235.2 291.5h.01M228.9 292.0h.01M230.7 288.5h.01M230.5 291.6h.01M232.9 283.0h.01M229.3 286.1h.01M230.4 287.5h.01M231.9 286.2h.01M230.3 286.7h.01M229.7 290.3h.01M230.8 287.7h.01M232.5 285.5h.01M235.6 287.0h.01M234.6 286.6h.01M233.7 287.4h.01M229.1 285.6h.01M227.4 288.9h.01M228.2 282.7h.01M234.2 285.8h.01M232.0 286.6h.01M227.3 286.4h.01M233.8 285.5h.01M226.3 288.9h.01M229.6 287.0h.01M228.8 287.4h.01M228.2 282.8h.01M233.1 287.5h.01M235.3 284.0h.01M231.0 284.3h.01M236.6 285.4h.01M232.1 283.8h.01M229.6 285.7h.01M230.9 286.9h.01M234.1 287.8h.01M234.5 285.6h.01M231.6 282.6h.01M232.9 286.1h.01M225.7 286.9h.01M228.8 290.3h.01M229.3 287.6h.01M231.2 289.2h.01M237.2 287.8h.01M229.4 288.3h.01M230.4 286.5h.01M230.6 284.0h.01M233.2 288.2h.01M231.3 286.7h.01M230.0 288.4h.01M229.2 285.9h.01M232.2 284.8h.01M231.9 286.4h.01M230.4 287.4h.01M232.4 287.3h.01M228.1 285.1h.01M230.1 284.9h.01M225.5 282.4h.01M229.7 288.5h.01M228.7 284.5h.01M229.5 286.8h.01M231.1 290.8h.01M230.3 289.9h.01M232.1 285.9h.01M226.9 287.6h.01M230.2 281.9h.01M234.1 285.0h.01M230.9 289.9h.01M232.3 286.0h.01M229.9 288.5h.01M231.4 286.0h.01M233.0 289.7h.01M230.0 284.1h.01M230.3 282.7h.01M229.7 287.4h.01M229.3 283.4h.01M235.4 285.8h.01M232.4 287.5h.01M229.1 290.7h.01M229.8 288.6h.01M231.4 288.7h.01M227.1 286.9h.01M231.2 285.8h.01M225.1 284.6h.01M229.5 287.6h.01M228.1 282.8h.01M231.7 287.1h.01M229.6 289.1h.01M231.4 287.5h.01M225.8 289.9h.01M228.8 286.0h.01M233.0 286.3h.01M231.4 287.8h.01M237.8 287.7h.01M224.7 285.3h.01M229.5 286.5h.01M229.0 288.5h.01M231.1 287.7h.01M228.8 281.9h.01M232.6 286.0h.01M229.1 285.5h.01M234.5 282.0h.01M232.5 286.9h.01M236.9 281.4h.01M231.0 286.0h.01M227.5 284.2h.01M228.0 285.4h.01M230.5 285.9h.01M225.4 283.9h.01M228.5 286.0h.01M235.0 290.9h.01M227.8 281.1h.01M235.4 285.9h.01M234.1 283.0h.01M230.2 284.1h.01M228.7 282.7h.01M229.9 291.3h.01M228.7 285.3h.01M226.1 289.2h.01M231.2 287.1h.01" stroke="#111" stroke-width="0.6" stroke-linecap="round" fill="none" opacity="0.8"/>
<path d="M231.7 284.9h.01M231.4 282.7h.01M230.4 284.2h.01M232.1 281.5h.01M234.1 283.5h.01M238.2 286.4h.01M240.8 283.0h.01M233.6 281.7h.01M233.6 287.1h.01M232.7 286.4h.01M231.7 287.7h.01M230.6 290.6h.01M233.6 281.9h.01M228.8 282.9h.01M242.4 286.0h.01M230.2 281.9h.01M228.4 288.9h.01M230.1 283.0h.01M235.1 283.0h.01M227.4 285.9h.01M236.4 277.6h.01M233.9 281.9h.01M231.2 279.4h.01M243.9 283.7h.01M229.2 288.5h.01M231.0 287.1h.01M231.6 275.3h.01M233.1 281.1h.01M241.7 287.8h.01M229.5 282.5h.01M230.9 274.2h.01M232.0 278.0h.01M229.1 285.6h.01M232.2 278.4h.01M236.4 283.0h.01M244.1 275.0h.01M232.3 279.5h.01M230.3 283.0h.01M234.8 277.0h.01M234.3 287.5h.01M232.7 281.3h.01M232.5 278.4h.01M234.5 287.2h.01M234.1 282.6h.01M225.8 285.6h.01M231.5 291.0h.01M228.0 289.2h.01M238.9 281.1h.01M230.2 290.1h.01M230.9 278.8h.01M229.4 288.3h.01M240.9 282.7h.01M234.1 281.0h.01M232.7 290.7h.01M227.8 286.1h.01M226.5 283.7h.01M242.1 284.7h.01M231.5 290.5h.01M229.7 280.6h.01M228.8 286.3h.01M235.0 280.8h.01M232.0 278.7h.01M231.1 279.4h.01M231.9 281.5h.01M228.7 288.4h.01M235.5 289.8h.01M230.0 285.1h.01M232.3 290.6h.01M234.5 287.1h.01" stroke="#333" stroke-width="0.54" stroke-linecap="round" fill="none" opacity="0.6"/>
<path d="M232.8 278.3h.01M232.7 273.0h.01M231.3 280.5h.01M229.8 279.8h.01M231.4 281.1h.01M233.1 276.6h.01M231.9 275.2h.01M229.7 277.1h.01M228.7 278.6h.01M237.6 273.6h.01M229.5 280.9h.01M229.8 276.2h.01M230.6 278.6h.01M224.8 282.5h.01M231.2 274.4h.01M229.2 274.5h.01M230.5 282.3h.01M235.1 277.9h.01M230.9 275.7h.01M229.8 281.2h.01M233.4 276.7h.01M231.4 282.4h.01M232.6 270.7h.01M230.6 277.3h.01M232.5 274.5h.01M231.1 277.1h.01M232.2 272.7h.01M231.1 276.4h.01M230.2 276.0h.01M234.1 275.9h.01M228.3 274.2h.01M231.6 275.3h.01M232.0 276.4h.01M228.4 272.7h.01M231.3 279.9h.01M232.2 276.4h.01M230.6 277.5h.01M230.6 278.5h.01M227.2 279.2h.01M231.0 270.0h.01M233.6 280.5h.01M227.3 280.6h.01M228.4 272.5h.01M230.4 275.5h.01M230.4 277.7h.01M230.5 281.2h.01M229.9 276.8h.01M231.5 273.3h.01M233.0 277.8h.01M229.2 279.0h.01M228.7 271.2h.01M228.7 273.9h.01M229.7 280.3h.01M230.1 269.0h.01M228.4 270.4h.01M233.3 276.2h.01M229.5 280.1h.01M233.0 272.1h.01M230.6 280.1h.01M231.9 279.6h.01M236.0 277.0h.01M232.6 275.3h.01M230.4 274.8h.01M233.9 278.5h.01M233.5 277.1h.01M227.1 277.3h.01M233.5 273.8h.01M233.3 276.4h.01" stroke="#222" stroke-width="0.58" stroke-linecap="round" fill="none" opacity="0.7"/>
</g>
<text x="0" y="2.29" font-size="6.4" text-anchor="middle" fill="#1a1a1a" stroke="#1a1a1a" stroke-width="0.2" transform="translate(231.70 261.70) scale(1.03 1)">10.3</text>
<text x="0" y="2.08" font-size="5.8" text-anchor="middle" fill="#1a1a1a" stroke="#1a1a1a" stroke-width="0.2" transform="translate(14.80 275.00) rotate(-90) scale(1.09 1)">Cell number</text>
<text x="0" y="2.08" font-size="5.8" text-anchor="middle" fill="#1a1a1a" stroke="#1a1a1a" stroke-width="0.2" transform="translate(47.00 304.80) scale(1.09 1)">IFN<tspan font-size="4.8" dy="0.9">γ</tspan></text>
<line x1="271.50" y1="236.00" x2="271.50" y2="283.50" stroke="#111" stroke-width="0.7" />
<line x1="269.50" y1="283.20" x2="271.50" y2="283.20" stroke="#111" stroke-width="0.6" />
<text x="0" y="2.08" font-size="5.8" text-anchor="end" fill="#1a1a1a" stroke="#1a1a1a" stroke-width="0.2" transform="translate(268.60 283.20) scale(1.09 1)">0</text>
<line x1="269.50" y1="274.44" x2="271.50" y2="274.44" stroke="#111" stroke-width="0.6" />
<text x="0" y="2.08" font-size="5.8" text-anchor="end" fill="#1a1a1a" stroke="#1a1a1a" stroke-width="0.2" transform="translate(268.60 274.44) scale(1.09 1)">10</text>
<line x1="269.50" y1="265.68" x2="271.50" y2="265.68" stroke="#111" stroke-width="0.6" />
<text x="0" y="2.08" font-size="5.8" text-anchor="end" fill="#1a1a1a" stroke="#1a1a1a" stroke-width="0.2" transform="translate(268.60 265.68) scale(1.09 1)">20</text>
<line x1="269.50" y1="256.92" x2="271.50" y2="256.92" stroke="#111" stroke-width="0.6" />
<text x="0" y="2.08" font-size="5.8" text-anchor="end" fill="#1a1a1a" stroke="#1a1a1a" stroke-width="0.2" transform="translate(268.60 256.92) scale(1.09 1)">30</text>
<line x1="269.50" y1="248.16" x2="271.50" y2="248.16" stroke="#111" stroke-width="0.6" />
<text x="0" y="2.08" font-size="5.8" text-anchor="end" fill="#1a1a1a" stroke="#1a1a1a" stroke-width="0.2" transform="translate(268.60 248.16) scale(1.09 1)">40</text>
<line x1="269.50" y1="239.40" x2="271.50" y2="239.40" stroke="#111" stroke-width="0.6" />
<text x="0" y="2.08" font-size="5.8" text-anchor="end" fill="#1a1a1a" stroke="#1a1a1a" stroke-width="0.2" transform="translate(268.60 239.40) scale(1.09 1)">50</text>
<line x1="271.50" y1="283.30" x2="342.20" y2="283.30" stroke="#111" stroke-width="0.7" />
<rect x="273.00" y="250.20" width="9.40" height="33.10" fill="#050505"/>
<line x1="277.70" y1="250.20" x2="277.70" y2="245.30" stroke="#111" stroke-width="0.55" />
<line x1="275.20" y1="245.30" x2="280.20" y2="245.30" stroke="#111" stroke-width="0.55" />
<rect x="287.60" y="265.00" width="9.40" height="18.30" fill="#050505"/>
<line x1="292.30" y1="265.00" x2="292.30" y2="263.00" stroke="#111" stroke-width="0.55" />
<line x1="289.80" y1="263.00" x2="294.80" y2="263.00" stroke="#111" stroke-width="0.55" />
<rect x="302.10" y="266.00" width="9.40" height="17.30" fill="#050505"/>
<line x1="306.80" y1="266.00" x2="306.80" y2="264.20" stroke="#111" stroke-width="0.55" />
<line x1="304.30" y1="264.20" x2="309.30" y2="264.20" stroke="#111" stroke-width="0.55" />
<rect x="316.60" y="271.30" width="9.40" height="12.00" fill="#050505"/>
<line x1="321.30" y1="271.30" x2="321.30" y2="269.30" stroke="#111" stroke-width="0.55" />
<line x1="318.80" y1="269.30" x2="323.80" y2="269.30" stroke="#111" stroke-width="0.55" />
<rect x="331.20" y="274.00" width="9.40" height="9.30" fill="#050505"/>
<line x1="335.90" y1="274.00" x2="335.90" y2="273.50" stroke="#111" stroke-width="0.55" />
<line x1="333.40" y1="273.50" x2="338.40" y2="273.50" stroke="#111" stroke-width="0.55" />
<text x="283.20" y="243.29" font-size="9.4" text-anchor="middle" fill="#222" stroke="#222" stroke-width="0.2" letter-spacing="0.4">*</text>
<line x1="272.70" y1="242.60" x2="292.50" y2="242.60" stroke="#222" stroke-width="0.6" />
<text x="313.40" y="257.29" font-size="9.4" text-anchor="middle" fill="#222" stroke="#222" stroke-width="0.2" letter-spacing="0.4">**</text>
<line x1="287.60" y1="256.80" x2="341.20" y2="256.80" stroke="#222" stroke-width="0.6" />
<text x="0" y="2.08" font-size="5.8" text-anchor="middle" fill="#1a1a1a" stroke="#1a1a1a" stroke-width="0.2" transform="translate(276.80 289.20) scale(1.09 1)">Teff</text>
<text x="0" y="2.08" font-size="5.8" text-anchor="middle" fill="#1a1a1a" stroke="#1a1a1a" stroke-width="0.2" transform="translate(292.30 289.20) scale(1.09 1)">0</text>
<text x="0" y="2.08" font-size="5.8" text-anchor="middle" fill="#1a1a1a" stroke="#1a1a1a" stroke-width="0.2" transform="translate(306.70 289.20) scale(1.09 1)">1</text>
<text x="0" y="2.08" font-size="5.8" text-anchor="middle" fill="#1a1a1a" stroke="#1a1a1a" stroke-width="0.2" transform="translate(321.20 289.20) scale(1.09 1)">10</text>
<text x="0" y="2.08" font-size="5.8" text-anchor="middle" fill="#1a1a1a" stroke="#1a1a1a" stroke-width="0.2" transform="translate(336.20 289.20) scale(1.09 1)">100</text>
<line x1="287.20" y1="294.10" x2="342.50" y2="294.10" stroke="#444" stroke-width="0.52" />
<text x="0" y="2.08" font-size="5.8" text-anchor="middle" fill="#1a1a1a" stroke="#1a1a1a" stroke-width="0.2" transform="translate(313.90 300.30) scale(1.09 1)">Teff+Treg+ AMI-1 (µM)</text>
<text x="0" y="2.08" font-size="5.8" text-anchor="middle" fill="#1a1a1a" stroke="#1a1a1a" stroke-width="0.2" transform="translate(258.30 262.30) rotate(-90) scale(0.993 1)">% CD4<tspan font-size="3.6" dy="-2.0">+</tspan><tspan dy="2.0"> IFN</tspan><tspan font-size="4.8" dy="0.8">γ</tspan><tspan font-size="3.6" dy="-2.8">+</tspan><tspan dy="2.0"> T cells</tspan></text>
<text x="0" y="2.36" font-size="6.6" text-anchor="start" fill="#000" stroke="#000" stroke-width="0.2" transform="translate(1.30 326.20) scale(1.09 1)" font-weight="bold">F</text>
<text x="0" y="2.08" font-size="5.8" text-anchor="middle" fill="#1a1a1a" stroke="#1a1a1a" stroke-width="0.2" transform="translate(34.00 338.70) scale(1.09 1)">US</text>
<text x="0" y="2.08" font-size="5.8" text-anchor="middle" fill="#1a1a1a" stroke="#1a1a1a" stroke-width="0.2" transform="translate(76.40 336.20) scale(1.09 1)">Teff</text>
<text x="0" y="2.08" font-size="5.8" text-anchor="middle" fill="#1a1a1a" stroke="#1a1a1a" stroke-width="0.2" transform="translate(175.60 329.50) scale(1.09 1)">Teff+Treg+ AMI-1 (µM)</text>
<line x1="106.20" y1="334.60" x2="270.00" y2="334.60" stroke="#444" stroke-width="0.52" />
<text x="0" y="2.08" font-size="5.8" text-anchor="middle" fill="#1a1a1a" stroke="#1a1a1a" stroke-width="0.2" transform="translate(122.40 338.20) scale(1.09 1)">0</text>
<text x="0" y="2.08" font-size="5.8" text-anchor="middle" fill="#1a1a1a" stroke="#1a1a1a" stroke-width="0.2" transform="translate(166.20 338.20) scale(1.09 1)">1</text>
<text x="0" y="2.08" font-size="5.8" text-anchor="middle" fill="#1a1a1a" stroke="#1a1a1a" stroke-width="0.2" transform="translate(208.30 338.20) scale(1.09 1)">10</text>
<text x="0" y="2.08" font-size="5.8" text-anchor="middle" fill="#1a1a1a" stroke="#1a1a1a" stroke-width="0.2" transform="translate(251.60 338.20) scale(1.09 1)">100</text>
<line x1="10.30" y1="390.00" x2="10.30" y2="345.00" stroke="#6a6a6a" stroke-width="0.55" />
<path d="M9.30 346.70 L10.30 344.40 L11.30 346.70Z" fill="#2a2a2a"/>
<line x1="10.30" y1="390.00" x2="274.50" y2="390.00" stroke="#6a6a6a" stroke-width="0.55" />
<path d="M272.80 389.00 L275.10 390.00 L272.80 391.00Z" fill="#2a2a2a"/>
<rect x="15.00" y="343.50" width="38.50" height="37.30" fill="none" stroke="#8c8c8c" stroke-width="0.5" />
<line x1="15.00" y1="380.60" x2="53.50" y2="380.60" stroke="#555" stroke-width="0.6" />
<line x1="18.20" y1="385.00" x2="19.70" y2="383.80" stroke="#777" stroke-width="0.55" />
<line x1="26.00" y1="385.00" x2="27.50" y2="383.80" stroke="#777" stroke-width="0.55" />
<line x1="33.80" y1="385.00" x2="35.30" y2="383.80" stroke="#777" stroke-width="0.55" />
<line x1="41.60" y1="385.00" x2="43.10" y2="383.80" stroke="#777" stroke-width="0.55" />
<line x1="49.40" y1="385.00" x2="50.90" y2="383.80" stroke="#777" stroke-width="0.55" />
<line x1="12.70" y1="347.00" x2="14.10" y2="347.00" stroke="#666" stroke-width="0.6" />
<line x1="12.70" y1="355.20" x2="14.10" y2="355.20" stroke="#666" stroke-width="0.6" />
<line x1="12.70" y1="363.40" x2="14.10" y2="363.40" stroke="#666" stroke-width="0.6" />
<line x1="12.70" y1="371.60" x2="14.10" y2="371.60" stroke="#666" stroke-width="0.6" />
<line x1="12.70" y1="379.80" x2="14.10" y2="379.80" stroke="#666" stroke-width="0.6" />
<line x1="24.90" y1="367.40" x2="45.70" y2="367.40" stroke="#c4c4c4" stroke-width="0.5" />
<path d="M17.0 380.2 L44.2 380.2 L45.3 379.6 L46.3 374.0 L47.4 360.0 L48.3 349.5 L49.0 347.5 L49.6 349.5 L50.3 360.0 L51.2 374.0 L52.0 379.4 L53.0 380.2" fill="none" stroke="#666" stroke-width="0.55" stroke-linejoin="round"/>
<text x="0" y="2.22" font-size="6.2" text-anchor="middle" fill="#1a1a1a" stroke="#1a1a1a" stroke-width="0.2" transform="translate(34.00 360.00) scale(1.04 1)">5.2%</text>
<rect x="59.10" y="343.50" width="37.40" height="37.30" fill="none" stroke="#8c8c8c" stroke-width="0.5" />
<line x1="59.10" y1="380.60" x2="96.50" y2="380.60" stroke="#555" stroke-width="0.6" />
<line x1="62.30" y1="385.00" x2="63.80" y2="383.80" stroke="#777" stroke-width="0.55" />
<line x1="70.10" y1="385.00" x2="71.60" y2="383.80" stroke="#777" stroke-width="0.55" />
<line x1="77.90" y1="385.00" x2="79.40" y2="383.80" stroke="#777" stroke-width="0.55" />
<line x1="85.70" y1="385.00" x2="87.20" y2="383.80" stroke="#777" stroke-width="0.55" />
<line x1="93.50" y1="385.00" x2="95.00" y2="383.80" stroke="#777" stroke-width="0.55" />
<line x1="56.80" y1="347.00" x2="58.20" y2="347.00" stroke="#666" stroke-width="0.6" />
<line x1="56.80" y1="355.20" x2="58.20" y2="355.20" stroke="#666" stroke-width="0.6" />
<line x1="56.80" y1="363.40" x2="58.20" y2="363.40" stroke="#666" stroke-width="0.6" />
<line x1="56.80" y1="371.60" x2="58.20" y2="371.60" stroke="#666" stroke-width="0.6" />
<line x1="56.80" y1="379.80" x2="58.20" y2="379.80" stroke="#666" stroke-width="0.6" />
<line x1="69.00" y1="369.00" x2="83.20" y2="369.00" stroke="#c4c4c4" stroke-width="0.5" />
<path d="M61.0 380.2 L76.0 380.2 L79.0 380.0 L80.5 378.5 L82.0 372.0 L83.3 362.0 L84.5 352.0 L85.8 347.5 L86.4 353.0 L87.0 355.0 L87.6 354.5 L88.2 358.5 L88.9 360.0 L89.5 364.0 L90.3 370.0 L91.2 376.0 L92.4 379.6 L95.0 380.2" fill="none" stroke="#666" stroke-width="0.55" stroke-linejoin="round"/>
<text x="0" y="2.22" font-size="6.2" text-anchor="middle" fill="#1a1a1a" stroke="#1a1a1a" stroke-width="0.2" transform="translate(74.70 360.00) scale(1.04 1)">80.8%</text>
<rect x="103.30" y="343.50" width="37.90" height="37.30" fill="none" stroke="#8c8c8c" stroke-width="0.5" />
<line x1="103.30" y1="380.60" x2="141.20" y2="380.60" stroke="#555" stroke-width="0.6" />
<line x1="106.50" y1="385.00" x2="108.00" y2="383.80" stroke="#777" stroke-width="0.55" />
<line x1="114.30" y1="385.00" x2="115.80" y2="383.80" stroke="#777" stroke-width="0.55" />
<line x1="122.10" y1="385.00" x2="123.60" y2="383.80" stroke="#777" stroke-width="0.55" />
<line x1="129.90" y1="385.00" x2="131.40" y2="383.80" stroke="#777" stroke-width="0.55" />
<line x1="137.70" y1="385.00" x2="139.20" y2="383.80" stroke="#777" stroke-width="0.55" />
<line x1="101.00" y1="347.00" x2="102.40" y2="347.00" stroke="#666" stroke-width="0.6" />
<line x1="101.00" y1="355.20" x2="102.40" y2="355.20" stroke="#666" stroke-width="0.6" />
<line x1="101.00" y1="363.40" x2="102.40" y2="363.40" stroke="#666" stroke-width="0.6" />
<line x1="101.00" y1="371.60" x2="102.40" y2="371.60" stroke="#666" stroke-width="0.6" />
<line x1="101.00" y1="379.80" x2="102.40" y2="379.80" stroke="#666" stroke-width="0.6" />
<line x1="115.00" y1="369.60" x2="130.70" y2="369.60" stroke="#c4c4c4" stroke-width="0.5" />
<path d="M105.0 380.2 L121.0 380.2 L124.0 379.6 L127.0 377.5 L129.3 374.0 L130.8 370.0 L131.8 366.3 L132.5 365.8 L133.1 367.6 L133.7 366.0 L134.4 357.0 L135.1 350.5 L135.8 349.2 L136.4 352.0 L137.1 364.0 L137.8 375.0 L138.7 379.8 L140.0 380.2" fill="none" stroke="#666" stroke-width="0.55" stroke-linejoin="round"/>
<text x="0" y="2.22" font-size="6.2" text-anchor="middle" fill="#1a1a1a" stroke="#1a1a1a" stroke-width="0.2" transform="translate(122.00 360.00) scale(1.04 1)">43.8%</text>
<rect x="148.00" y="343.50" width="37.70" height="37.30" fill="none" stroke="#8c8c8c" stroke-width="0.5" />
<line x1="148.00" y1="380.60" x2="185.70" y2="380.60" stroke="#555" stroke-width="0.6" />
<line x1="151.20" y1="385.00" x2="152.70" y2="383.80" stroke="#777" stroke-width="0.55" />
<line x1="159.00" y1="385.00" x2="160.50" y2="383.80" stroke="#777" stroke-width="0.55" />
<line x1="166.80" y1="385.00" x2="168.30" y2="383.80" stroke="#777" stroke-width="0.55" />
<line x1="174.60" y1="385.00" x2="176.10" y2="383.80" stroke="#777" stroke-width="0.55" />
<line x1="182.40" y1="385.00" x2="183.90" y2="383.80" stroke="#777" stroke-width="0.55" />
<line x1="145.70" y1="347.00" x2="147.10" y2="347.00" stroke="#666" stroke-width="0.6" />
<line x1="145.70" y1="355.20" x2="147.10" y2="355.20" stroke="#666" stroke-width="0.6" />
<line x1="145.70" y1="363.40" x2="147.10" y2="363.40" stroke="#666" stroke-width="0.6" />
<line x1="145.70" y1="371.60" x2="147.10" y2="371.60" stroke="#666" stroke-width="0.6" />
<line x1="145.70" y1="379.80" x2="147.10" y2="379.80" stroke="#666" stroke-width="0.6" />
<line x1="159.60" y1="369.00" x2="175.70" y2="369.00" stroke="#c4c4c4" stroke-width="0.5" />
<path d="M150.0 380.2 L168.0 380.2 L171.0 379.8 L173.5 377.5 L175.3 373.5 L176.4 369.5 L177.0 368.2 L177.7 369.3 L178.3 366.0 L178.9 357.0 L179.5 351.0 L180.0 349.6 L180.6 352.0 L181.3 364.0 L182.0 375.0 L183.0 379.8 L184.5 380.2" fill="none" stroke="#666" stroke-width="0.55" stroke-linejoin="round"/>
<text x="0" y="2.22" font-size="6.2" text-anchor="middle" fill="#1a1a1a" stroke="#1a1a1a" stroke-width="0.2" transform="translate(166.20 360.00) scale(1.04 1)">42.2%</text>
<rect x="193.00" y="343.50" width="37.70" height="37.30" fill="none" stroke="#8c8c8c" stroke-width="0.5" />
<line x1="193.00" y1="380.60" x2="230.70" y2="380.60" stroke="#555" stroke-width="0.6" />
<line x1="196.20" y1="385.00" x2="197.70" y2="383.80" stroke="#777" stroke-width="0.55" />
<line x1="204.00" y1="385.00" x2="205.50" y2="383.80" stroke="#777" stroke-width="0.55" />
<line x1="211.80" y1="385.00" x2="213.30" y2="383.80" stroke="#777" stroke-width="0.55" />
<line x1="219.60" y1="385.00" x2="221.10" y2="383.80" stroke="#777" stroke-width="0.55" />
<line x1="227.40" y1="385.00" x2="228.90" y2="383.80" stroke="#777" stroke-width="0.55" />
<line x1="190.70" y1="347.00" x2="192.10" y2="347.00" stroke="#666" stroke-width="0.6" />
<line x1="190.70" y1="355.20" x2="192.10" y2="355.20" stroke="#666" stroke-width="0.6" />
<line x1="190.70" y1="363.40" x2="192.10" y2="363.40" stroke="#666" stroke-width="0.6" />
<line x1="190.70" y1="371.60" x2="192.10" y2="371.60" stroke="#666" stroke-width="0.6" />
<line x1="190.70" y1="379.80" x2="192.10" y2="379.80" stroke="#666" stroke-width="0.6" />
<line x1="204.60" y1="369.00" x2="218.20" y2="369.00" stroke="#c4c4c4" stroke-width="0.5" />
<path d="M195.0 380.2 L212.0 380.2 L215.0 379.8 L217.5 378.0 L219.5 375.0 L221.0 370.0 L221.9 367.4 L222.5 368.5 L223.0 364.0 L223.6 354.0 L224.1 348.5 L224.5 347.5 L225.1 350.0 L226.0 363.0 L227.0 375.0 L228.3 379.8 L229.8 380.2" fill="none" stroke="#666" stroke-width="0.55" stroke-linejoin="round"/>
<text x="0" y="2.22" font-size="6.2" text-anchor="middle" fill="#1a1a1a" stroke="#1a1a1a" stroke-width="0.2" transform="translate(213.30 360.00) scale(1.04 1)">38.5%</text>
<rect x="237.50" y="343.50" width="37.70" height="37.30" fill="none" stroke="#8c8c8c" stroke-width="0.5" />
<line x1="237.50" y1="380.60" x2="275.20" y2="380.60" stroke="#555" stroke-width="0.6" />
<line x1="240.70" y1="385.00" x2="242.20" y2="383.80" stroke="#777" stroke-width="0.55" />
<line x1="248.50" y1="385.00" x2="250.00" y2="383.80" stroke="#777" stroke-width="0.55" />
<line x1="256.30" y1="385.00" x2="257.80" y2="383.80" stroke="#777" stroke-width="0.55" />
<line x1="264.10" y1="385.00" x2="265.60" y2="383.80" stroke="#777" stroke-width="0.55" />
<line x1="271.90" y1="385.00" x2="273.40" y2="383.80" stroke="#777" stroke-width="0.55" />
<line x1="235.20" y1="347.00" x2="236.60" y2="347.00" stroke="#666" stroke-width="0.6" />
<line x1="235.20" y1="355.20" x2="236.60" y2="355.20" stroke="#666" stroke-width="0.6" />
<line x1="235.20" y1="363.40" x2="236.60" y2="363.40" stroke="#666" stroke-width="0.6" />
<line x1="235.20" y1="371.60" x2="236.60" y2="371.60" stroke="#666" stroke-width="0.6" />
<line x1="235.20" y1="379.80" x2="236.60" y2="379.80" stroke="#666" stroke-width="0.6" />
<line x1="248.30" y1="369.40" x2="264.10" y2="369.40" stroke="#c4c4c4" stroke-width="0.5" />
<path d="M239.5 380.2 L258.0 380.2 L261.0 379.8 L263.5 378.0 L265.0 374.0 L266.0 369.5 L266.6 368.2 L267.2 367.0 L267.9 360.0 L268.6 352.0 L269.2 349.2 L269.6 349.0 L270.3 351.5 L271.1 363.0 L272.0 375.0 L273.2 379.8 L274.5 380.2" fill="none" stroke="#666" stroke-width="0.55" stroke-linejoin="round"/>
<text x="0" y="2.22" font-size="6.2" text-anchor="middle" fill="#1a1a1a" stroke="#1a1a1a" stroke-width="0.2" transform="translate(256.20 360.00) scale(1.04 1)">28.8%</text>
<text x="0" y="2.08" font-size="5.8" text-anchor="middle" fill="#1a1a1a" stroke="#1a1a1a" stroke-width="0.2" transform="translate(4.80 365.80) rotate(-90) scale(1.09 1)">Cell number</text>
<text x="0" y="2.08" font-size="5.8" text-anchor="middle" fill="#1a1a1a" stroke="#1a1a1a" stroke-width="0.2" transform="translate(45.80 396.00) scale(1.09 1)">CFSE</text>
<line x1="300.80" y1="318.50" x2="300.80" y2="387.50" stroke="#111" stroke-width="0.7" />
<line x1="298.60" y1="373.90" x2="300.80" y2="373.90" stroke="#111" stroke-width="0.6" />
<text x="0" y="2.08" font-size="5.8" text-anchor="end" fill="#1a1a1a" stroke="#1a1a1a" stroke-width="0.2" transform="translate(297.40 373.90) scale(1.09 1)">20</text>
<line x1="298.60" y1="360.60" x2="300.80" y2="360.60" stroke="#111" stroke-width="0.6" />
<text x="0" y="2.08" font-size="5.8" text-anchor="end" fill="#1a1a1a" stroke="#1a1a1a" stroke-width="0.2" transform="translate(297.40 360.60) scale(1.09 1)">40</text>
<line x1="298.60" y1="347.30" x2="300.80" y2="347.30" stroke="#111" stroke-width="0.6" />
<text x="0" y="2.08" font-size="5.8" text-anchor="end" fill="#1a1a1a" stroke="#1a1a1a" stroke-width="0.2" transform="translate(297.40 347.30) scale(1.09 1)">60</text>
<line x1="298.60" y1="334.00" x2="300.80" y2="334.00" stroke="#111" stroke-width="0.6" />
<text x="0" y="2.08" font-size="5.8" text-anchor="end" fill="#1a1a1a" stroke="#1a1a1a" stroke-width="0.2" transform="translate(297.40 334.00) scale(1.09 1)">80</text>
<line x1="298.60" y1="320.70" x2="300.80" y2="320.70" stroke="#111" stroke-width="0.6" />
<text x="0" y="2.08" font-size="5.8" text-anchor="end" fill="#1a1a1a" stroke="#1a1a1a" stroke-width="0.2" transform="translate(297.40 320.70) scale(1.09 1)">100</text>
<rect x="299" y="375.4" width="3" height="13" fill="#fff"/>
<line x1="300.80" y1="375.00" x2="354.90" y2="375.00" stroke="#111" stroke-width="0.7" />
<path d="M308.4 360.8 L322.0 356.4 L335.7 347.3 L349.5 339.3" fill="none" stroke="#111" stroke-width="0.8"/>
<line x1="308.40" y1="358.10" x2="308.40" y2="363.50" stroke="#111" stroke-width="0.5" />
<line x1="307.10" y1="358.10" x2="309.70" y2="358.10" stroke="#111" stroke-width="0.5" />
<line x1="307.10" y1="363.50" x2="309.70" y2="363.50" stroke="#111" stroke-width="0.5" />
<circle cx="308.4" cy="360.8" r="0.95" fill="#111"/>
<line x1="322.00" y1="353.70" x2="322.00" y2="359.10" stroke="#111" stroke-width="0.5" />
<line x1="320.70" y1="353.70" x2="323.30" y2="353.70" stroke="#111" stroke-width="0.5" />
<line x1="320.70" y1="359.10" x2="323.30" y2="359.10" stroke="#111" stroke-width="0.5" />
<circle cx="322.0" cy="356.4" r="0.95" fill="#111"/>
<line x1="335.70" y1="344.60" x2="335.70" y2="350.00" stroke="#111" stroke-width="0.5" />
<line x1="334.40" y1="344.60" x2="337.00" y2="344.60" stroke="#111" stroke-width="0.5" />
<line x1="334.40" y1="350.00" x2="337.00" y2="350.00" stroke="#111" stroke-width="0.5" />
<circle cx="335.7" cy="347.3" r="0.95" fill="#111"/>
<line x1="349.50" y1="336.60" x2="349.50" y2="342.00" stroke="#111" stroke-width="0.5" />
<line x1="348.20" y1="336.60" x2="350.80" y2="336.60" stroke="#111" stroke-width="0.5" />
<line x1="348.20" y1="342.00" x2="350.80" y2="342.00" stroke="#111" stroke-width="0.5" />
<circle cx="349.5" cy="339.3" r="0.95" fill="#111"/>
<text x="326.80" y="331.49" font-size="9.4" text-anchor="middle" fill="#222" stroke="#222" stroke-width="0.2" letter-spacing="0.4">**</text>
<line x1="305.30" y1="330.50" x2="349.30" y2="330.50" stroke="#6a6a6a" stroke-width="0.6" />
<text x="320.20" y="342.89" font-size="9.4" text-anchor="middle" fill="#222" stroke="#222" stroke-width="0.2" letter-spacing="0.4">*</text>
<line x1="305.30" y1="342.20" x2="333.30" y2="342.20" stroke="#6a6a6a" stroke-width="0.6" />
<text x="0" y="2.08" font-size="5.8" text-anchor="middle" fill="#1a1a1a" stroke="#1a1a1a" stroke-width="0.2" transform="translate(306.00 382.00) scale(1.09 1)">0</text>
<text x="0" y="2.08" font-size="5.8" text-anchor="middle" fill="#1a1a1a" stroke="#1a1a1a" stroke-width="0.2" transform="translate(320.80 382.00) scale(1.09 1)">1</text>
<text x="0" y="2.08" font-size="5.8" text-anchor="middle" fill="#1a1a1a" stroke="#1a1a1a" stroke-width="0.2" transform="translate(335.10 382.00) scale(1.09 1)">10</text>
<text x="0" y="2.08" font-size="5.8" text-anchor="middle" fill="#1a1a1a" stroke="#1a1a1a" stroke-width="0.2" transform="translate(349.20 382.00) scale(1.09 1)">100</text>
<line x1="298.50" y1="386.80" x2="361.00" y2="386.80" stroke="#444" stroke-width="0.52" />
<text x="0" y="2.08" font-size="5.8" text-anchor="middle" fill="#1a1a1a" stroke="#1a1a1a" stroke-width="0.2" transform="translate(331.30 392.70) scale(1.09 1)">AMI-1 (µM)</text>
<text x="0" y="2.08" font-size="5.8" text-anchor="middle" fill="#1a1a1a" stroke="#1a1a1a" stroke-width="0.2" transform="translate(282.10 343.70) rotate(-90) scale(1.015 1)">% inhibition</text>
</svg></body></html>
